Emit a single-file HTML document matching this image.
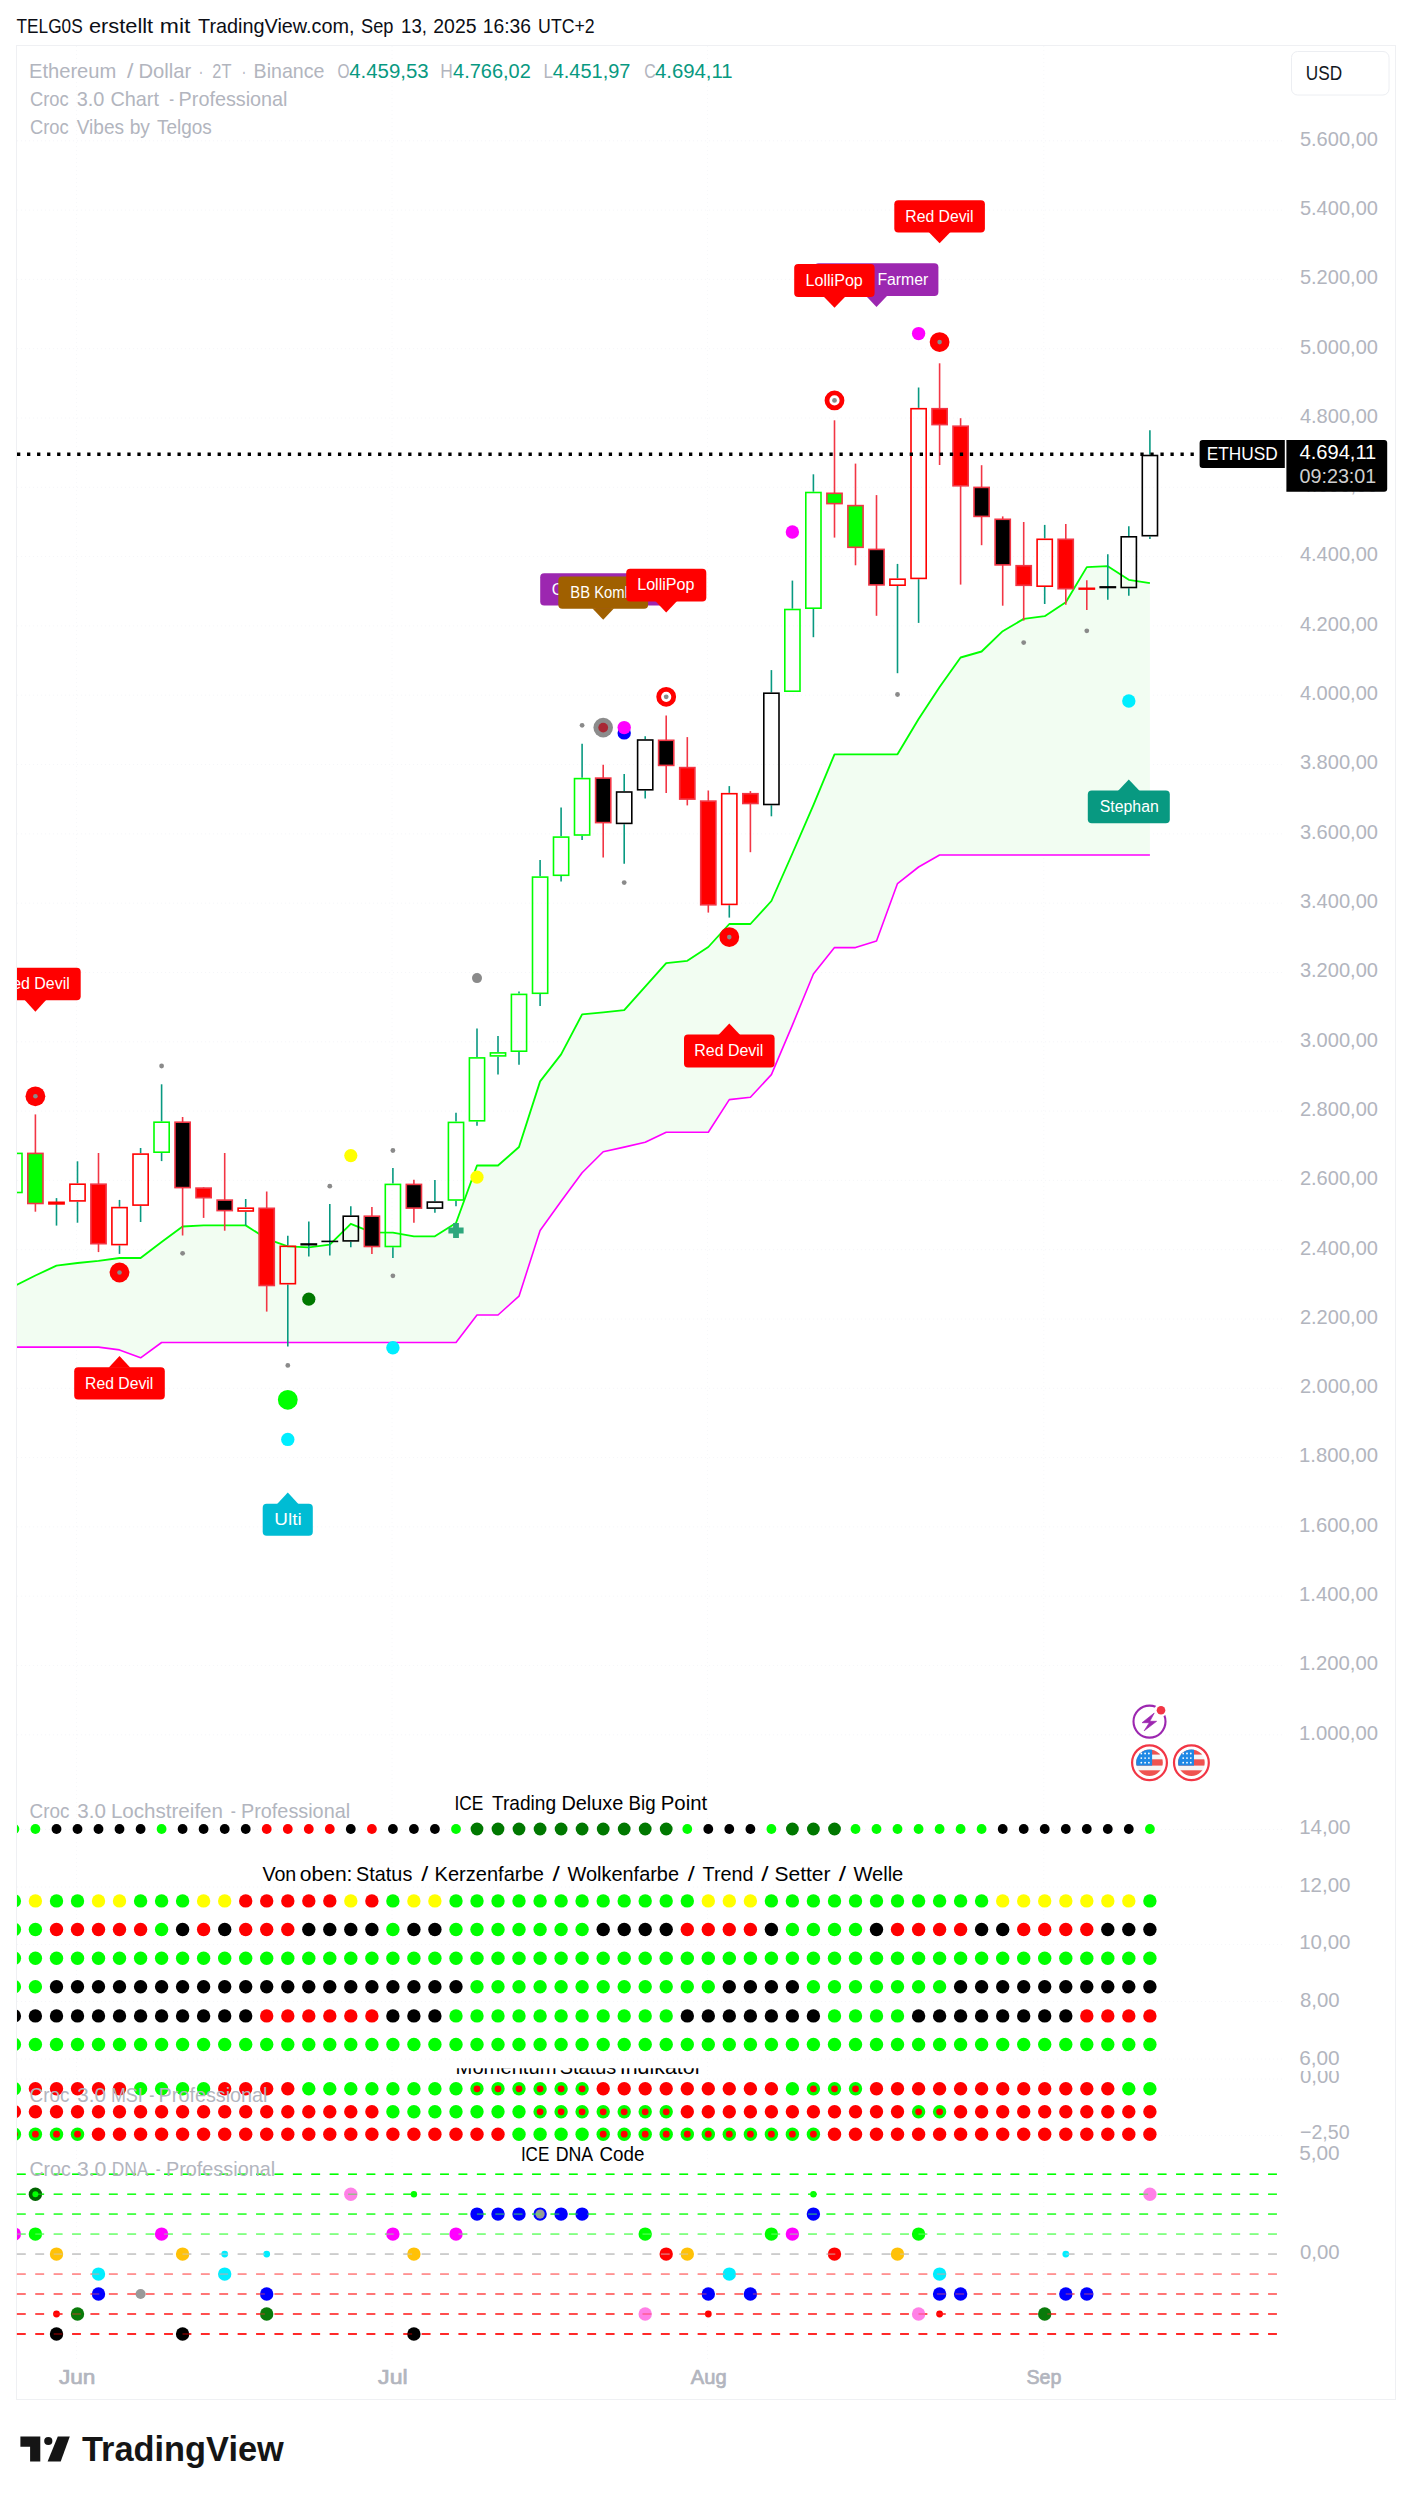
<!DOCTYPE html>
<html lang="de"><head><meta charset="utf-8"><title>ETHUSD Chart</title>
<style>html,body{margin:0;padding:0;background:#ffffff;}body{width:1412px;height:2500px;overflow:hidden;font-family:"Liberation Sans",sans-serif;}svg{display:block;}text{font-family:"Liberation Sans",sans-serif;}</style>
</head><body>
<svg width="1412" height="2500" viewBox="0 0 1412 2500">
<defs>
<clipPath id="plot"><rect x="17" y="46" width="1379" height="2354"/></clipPath>
<clipPath id="msitxt"><rect x="17" y="2068.2" width="1379" height="100"/></clipPath>
<clipPath id="msiax"><rect x="1280" y="2071.0" width="116" height="100"/></clipPath>
<clipPath id="flagclip"><circle cx="0" cy="0" r="13.3"/></clipPath>
</defs>
<rect x="0" y="0" width="1412" height="2500" fill="#ffffff"/>
<text x="16.6" y="32.5" font-size="20.9" fill="#0c0e15" textLength="66.1" lengthAdjust="spacingAndGlyphs">TELG0S</text>
<text x="88.9" y="32.5" font-size="20.9" fill="#0c0e15" textLength="64.3" lengthAdjust="spacingAndGlyphs">erstellt</text>
<text x="159.8" y="32.5" font-size="20.9" fill="#0c0e15" textLength="30.6" lengthAdjust="spacingAndGlyphs">mit</text>
<text x="198.0" y="32.5" font-size="20.9" fill="#0c0e15" textLength="156.6" lengthAdjust="spacingAndGlyphs">TradingView.com,</text>
<text x="361.1" y="32.5" font-size="20.9" fill="#0c0e15" textLength="32.4" lengthAdjust="spacingAndGlyphs">Sep</text>
<text x="401.1" y="32.5" font-size="20.9" fill="#0c0e15" textLength="25.9" lengthAdjust="spacingAndGlyphs">13,</text>
<text x="433.3" y="32.5" font-size="20.9" fill="#0c0e15" textLength="43.2" lengthAdjust="spacingAndGlyphs">2025</text>
<text x="482.8" y="32.5" font-size="20.9" fill="#0c0e15" textLength="48.2" lengthAdjust="spacingAndGlyphs">16:36</text>
<text x="538.1" y="32.5" font-size="20.9" fill="#0c0e15" textLength="56.6" lengthAdjust="spacingAndGlyphs">UTC+2</text>
<rect x="16.5" y="45.5" width="1379" height="2354" fill="#ffffff" stroke="#eff0f3" stroke-width="1"/>
<g stroke="#f5f6f9" stroke-width="1" stroke-dasharray="1 3">
<line x1="17" y1="140.8" x2="1284" y2="140.8"/>
<line x1="17" y1="210.1" x2="1284" y2="210.1"/>
<line x1="17" y1="279.4" x2="1284" y2="279.4"/>
<line x1="17" y1="348.7" x2="1284" y2="348.7"/>
<line x1="17" y1="418.0" x2="1284" y2="418.0"/>
<line x1="17" y1="487.3" x2="1284" y2="487.3"/>
<line x1="17" y1="556.6" x2="1284" y2="556.6"/>
<line x1="17" y1="625.9" x2="1284" y2="625.9"/>
<line x1="17" y1="695.2" x2="1284" y2="695.2"/>
<line x1="17" y1="764.5" x2="1284" y2="764.5"/>
<line x1="17" y1="833.9" x2="1284" y2="833.9"/>
<line x1="17" y1="903.2" x2="1284" y2="903.2"/>
<line x1="17" y1="972.5" x2="1284" y2="972.5"/>
<line x1="17" y1="1041.8" x2="1284" y2="1041.8"/>
<line x1="17" y1="1111.1" x2="1284" y2="1111.1"/>
<line x1="17" y1="1180.4" x2="1284" y2="1180.4"/>
<line x1="17" y1="1249.7" x2="1284" y2="1249.7"/>
<line x1="17" y1="1319.0" x2="1284" y2="1319.0"/>
<line x1="17" y1="1388.3" x2="1284" y2="1388.3"/>
<line x1="17" y1="1457.6" x2="1284" y2="1457.6"/>
<line x1="17" y1="1526.9" x2="1284" y2="1526.9"/>
<line x1="17" y1="1596.2" x2="1284" y2="1596.2"/>
<line x1="17" y1="1665.5" x2="1284" y2="1665.5"/>
<line x1="17" y1="1734.8" x2="1284" y2="1734.8"/>
<line x1="17" y1="1829.5" x2="1284" y2="1829.5"/>
<line x1="17" y1="1887.0" x2="1284" y2="1887.0"/>
<line x1="17" y1="1944.5" x2="1284" y2="1944.5"/>
<line x1="17" y1="2001.5" x2="1284" y2="2001.5"/>
<line x1="17" y1="2059.0" x2="1284" y2="2059.0"/>
<line x1="17" y1="2079.0" x2="1284" y2="2079.0"/>
<line x1="17" y1="2135.5" x2="1284" y2="2135.5"/>
<line x1="76.6" y1="46" x2="76.6" y2="2360" stroke="#f7f8fa"/>
<line x1="392.0" y1="46" x2="392.0" y2="2360" stroke="#f7f8fa"/>
<line x1="707.4" y1="46" x2="707.4" y2="2360" stroke="#f7f8fa"/>
<line x1="1043.8" y1="46" x2="1043.8" y2="2360" stroke="#f7f8fa"/>
</g>
<g clip-path="url(#plot)">
<polygon points="14.4,1286.0 35.4,1275.5 56.5,1265.7 77.5,1263.0 98.5,1260.9 119.5,1258.0 140.6,1258.0 161.6,1242.0 182.6,1226.5 203.6,1225.4 224.7,1225.4 245.7,1225.4 266.7,1238.8 287.8,1246.4 308.8,1247.3 329.8,1244.7 350.8,1223.8 371.9,1232.3 392.9,1232.6 413.9,1236.3 434.9,1236.3 456.0,1223.0 477.0,1165.5 498.0,1165.5 519.0,1147.0 540.1,1081.4 561.1,1054.4 582.1,1014.4 603.2,1012.4 624.2,1010.2 645.2,986.6 666.2,963.2 687.3,960.8 708.3,947.0 729.3,924.0 750.4,924.0 771.4,901.0 792.4,853.5 813.4,805.1 834.5,754.3 855.5,754.3 876.5,754.3 897.5,754.3 918.6,719.0 939.6,687.0 960.6,657.5 981.6,651.5 1002.7,631.2 1023.7,618.9 1044.7,616.2 1065.8,602.3 1086.8,567.1 1107.8,566.2 1128.8,579.8 1149.9,583.2 1149.9,855.0 1128.8,855.0 1107.8,855.0 1086.8,855.0 1065.8,855.0 1044.7,855.0 1023.7,855.0 1002.7,855.0 981.6,855.0 960.6,855.0 939.6,855.0 918.6,867.0 897.5,883.6 876.5,941.0 855.5,947.6 834.5,947.6 813.4,974.0 792.4,1025.1 771.4,1074.6 750.4,1097.3 729.3,1099.6 708.3,1132.2 687.3,1132.2 666.2,1132.2 645.2,1142.2 624.2,1147.1 603.2,1151.8 582.1,1172.8 561.1,1201.2 540.1,1230.5 519.0,1296.2 498.0,1315.0 477.0,1315.0 456.0,1342.5 434.9,1342.5 413.9,1342.5 392.9,1342.5 371.9,1342.5 350.8,1342.5 329.8,1342.5 308.8,1342.5 287.8,1342.5 266.7,1342.5 245.7,1342.5 224.7,1342.5 203.6,1342.5 182.6,1342.5 161.6,1342.5 140.6,1357.8 119.5,1349.9 98.5,1347.1 77.5,1347.1 56.5,1347.1 35.4,1347.1 14.4,1347.1" fill="#f2fdf2"/>
<polyline points="14.4,1347.1 35.4,1347.1 56.5,1347.1 77.5,1347.1 98.5,1347.1 119.5,1349.9 140.6,1357.8 161.6,1342.5 182.6,1342.5 203.6,1342.5 224.7,1342.5 245.7,1342.5 266.7,1342.5 287.8,1342.5 308.8,1342.5 329.8,1342.5 350.8,1342.5 371.9,1342.5 392.9,1342.5 413.9,1342.5 434.9,1342.5 456.0,1342.5 477.0,1315.0 498.0,1315.0 519.0,1296.2 540.1,1230.5 561.1,1201.2 582.1,1172.8 603.2,1151.8 624.2,1147.1 645.2,1142.2 666.2,1132.2 687.3,1132.2 708.3,1132.2 729.3,1099.6 750.4,1097.3 771.4,1074.6 792.4,1025.1 813.4,974.0 834.5,947.6 855.5,947.6 876.5,941.0 897.5,883.6 918.6,867.0 939.6,855.0 960.6,855.0 981.6,855.0 1002.7,855.0 1023.7,855.0 1044.7,855.0 1065.8,855.0 1086.8,855.0 1107.8,855.0 1128.8,855.0 1149.9,855.0" fill="none" stroke="#ff00ff" stroke-width="1.6" stroke-linejoin="round"/>
<polyline points="14.4,1286.0 35.4,1275.5 56.5,1265.7 77.5,1263.0 98.5,1260.9 119.5,1258.0 140.6,1258.0 161.6,1242.0 182.6,1226.5 203.6,1225.4 224.7,1225.4 245.7,1225.4 266.7,1238.8 287.8,1246.4 308.8,1247.3 329.8,1244.7 350.8,1223.8 371.9,1232.3 392.9,1232.6 413.9,1236.3 434.9,1236.3 456.0,1223.0 477.0,1165.5 498.0,1165.5 519.0,1147.0 540.1,1081.4 561.1,1054.4 582.1,1014.4 603.2,1012.4 624.2,1010.2 645.2,986.6 666.2,963.2 687.3,960.8 708.3,947.0 729.3,924.0 750.4,924.0 771.4,901.0 792.4,853.5 813.4,805.1 834.5,754.3 855.5,754.3 876.5,754.3 897.5,754.3 918.6,719.0 939.6,687.0 960.6,657.5 981.6,651.5 1002.7,631.2 1023.7,618.9 1044.7,616.2 1065.8,602.3 1086.8,567.1 1107.8,566.2 1128.8,579.8 1149.9,583.2" fill="none" stroke="#00ff00" stroke-width="1.85" stroke-linejoin="round"/>
<rect x="6.8" y="1153.4" width="15.2" height="39.1" fill="none" stroke="#00ff00" stroke-width="1.6"/>
<line x1="35.4" y1="1114.4" x2="35.4" y2="1211.7" stroke="#f23645" stroke-width="1.6"/>
<rect x="27.8" y="1153.4" width="15.2" height="50.1" fill="#00ff00" stroke="#f23645" stroke-width="1.6"/>
<line x1="56.5" y1="1198.1" x2="56.5" y2="1225.6" stroke="#089981" stroke-width="1.6"/>
<rect x="48.1" y="1201.5" width="16.8" height="3.2" fill="#ff0000"/>
<line x1="77.5" y1="1161.3" x2="77.5" y2="1183.4" stroke="#089981" stroke-width="1.6"/>
<line x1="77.5" y1="1201.7" x2="77.5" y2="1222.7" stroke="#089981" stroke-width="1.6"/>
<rect x="69.9" y="1184.2" width="15.2" height="16.7" fill="none" stroke="#ff0000" stroke-width="1.6"/>
<line x1="98.5" y1="1153.0" x2="98.5" y2="1252.1" stroke="#f23645" stroke-width="1.6"/>
<rect x="90.9" y="1184.2" width="15.2" height="59.5" fill="#ff0000" stroke="#f23645" stroke-width="1.6"/>
<line x1="119.5" y1="1199.9" x2="119.5" y2="1206.8" stroke="#089981" stroke-width="1.6"/>
<line x1="119.5" y1="1245.4" x2="119.5" y2="1253.9" stroke="#089981" stroke-width="1.6"/>
<rect x="111.9" y="1207.6" width="15.2" height="37.0" fill="none" stroke="#ff0000" stroke-width="1.6"/>
<line x1="140.6" y1="1148.0" x2="140.6" y2="1153.3" stroke="#089981" stroke-width="1.6"/>
<line x1="140.6" y1="1205.9" x2="140.6" y2="1222.0" stroke="#089981" stroke-width="1.6"/>
<rect x="133.0" y="1154.1" width="15.2" height="51.0" fill="none" stroke="#ff0000" stroke-width="1.6"/>
<line x1="161.6" y1="1084.3" x2="161.6" y2="1121.4" stroke="#089981" stroke-width="1.6"/>
<line x1="161.6" y1="1153.0" x2="161.6" y2="1161.1" stroke="#089981" stroke-width="1.6"/>
<rect x="154.0" y="1122.2" width="15.2" height="30.0" fill="none" stroke="#00ff00" stroke-width="1.6"/>
<line x1="182.6" y1="1117.0" x2="182.6" y2="1235.5" stroke="#f23645" stroke-width="1.6"/>
<rect x="175.0" y="1122.2" width="15.2" height="65.4" fill="#000000" stroke="#f23645" stroke-width="1.6"/>
<line x1="203.6" y1="1187.3" x2="203.6" y2="1217.9" stroke="#f23645" stroke-width="1.6"/>
<rect x="196.0" y="1188.1" width="15.2" height="9.6" fill="#ff0000" stroke="#f23645" stroke-width="1.6"/>
<line x1="224.7" y1="1153.0" x2="224.7" y2="1230.7" stroke="#f23645" stroke-width="1.6"/>
<rect x="217.1" y="1200.1" width="15.2" height="10.5" fill="#000000" stroke="#f23645" stroke-width="1.6"/>
<line x1="245.7" y1="1199.0" x2="245.7" y2="1207.4" stroke="#089981" stroke-width="1.6"/>
<line x1="245.7" y1="1211.8" x2="245.7" y2="1225.5" stroke="#089981" stroke-width="1.6"/>
<rect x="238.1" y="1208.2" width="15.2" height="2.8" fill="none" stroke="#ff0000" stroke-width="1.6"/>
<line x1="266.7" y1="1191.5" x2="266.7" y2="1311.6" stroke="#f23645" stroke-width="1.6"/>
<rect x="259.1" y="1208.3" width="15.2" height="77.2" fill="#ff0000" stroke="#f23645" stroke-width="1.6"/>
<line x1="287.8" y1="1235.8" x2="287.8" y2="1245.5" stroke="#089981" stroke-width="1.6"/>
<line x1="287.8" y1="1284.5" x2="287.8" y2="1346.5" stroke="#089981" stroke-width="1.6"/>
<rect x="280.2" y="1246.3" width="15.2" height="37.4" fill="none" stroke="#ff0000" stroke-width="1.6"/>
<line x1="308.8" y1="1221.6" x2="308.8" y2="1256.5" stroke="#089981" stroke-width="1.6"/>
<rect x="300.4" y="1243.2" width="16.8" height="2.3" fill="#000000"/>
<line x1="329.8" y1="1203.9" x2="329.8" y2="1255.6" stroke="#089981" stroke-width="1.6"/>
<rect x="321.4" y="1240.6" width="16.8" height="1.6" fill="#000000"/>
<line x1="350.8" y1="1206.2" x2="350.8" y2="1215.4" stroke="#089981" stroke-width="1.6"/>
<line x1="350.8" y1="1241.7" x2="350.8" y2="1247.3" stroke="#089981" stroke-width="1.6"/>
<rect x="343.2" y="1216.2" width="15.2" height="24.7" fill="none" stroke="#000000" stroke-width="1.6"/>
<line x1="371.9" y1="1207.1" x2="371.9" y2="1253.9" stroke="#f23645" stroke-width="1.6"/>
<rect x="364.3" y="1216.2" width="15.2" height="30.3" fill="#000000" stroke="#f23645" stroke-width="1.6"/>
<line x1="392.9" y1="1168.0" x2="392.9" y2="1183.6" stroke="#089981" stroke-width="1.6"/>
<line x1="392.9" y1="1247.3" x2="392.9" y2="1257.9" stroke="#089981" stroke-width="1.6"/>
<rect x="385.3" y="1184.4" width="15.2" height="62.1" fill="none" stroke="#00ff00" stroke-width="1.6"/>
<line x1="413.9" y1="1179.7" x2="413.9" y2="1222.7" stroke="#f23645" stroke-width="1.6"/>
<rect x="406.3" y="1184.4" width="15.2" height="23.7" fill="#000000" stroke="#f23645" stroke-width="1.6"/>
<line x1="434.9" y1="1180.0" x2="434.9" y2="1201.3" stroke="#089981" stroke-width="1.6"/>
<line x1="434.9" y1="1208.9" x2="434.9" y2="1212.8" stroke="#089981" stroke-width="1.6"/>
<rect x="427.3" y="1202.1" width="15.2" height="6.0" fill="none" stroke="#000000" stroke-width="1.6"/>
<line x1="456.0" y1="1112.8" x2="456.0" y2="1121.6" stroke="#089981" stroke-width="1.6"/>
<line x1="456.0" y1="1200.8" x2="456.0" y2="1206.2" stroke="#089981" stroke-width="1.6"/>
<rect x="448.4" y="1122.4" width="15.2" height="77.6" fill="none" stroke="#00ff00" stroke-width="1.6"/>
<line x1="477.0" y1="1028.6" x2="477.0" y2="1057.1" stroke="#089981" stroke-width="1.6"/>
<line x1="477.0" y1="1121.6" x2="477.0" y2="1125.8" stroke="#089981" stroke-width="1.6"/>
<rect x="469.4" y="1057.9" width="15.2" height="62.9" fill="none" stroke="#00ff00" stroke-width="1.6"/>
<line x1="498.0" y1="1035.9" x2="498.0" y2="1052.1" stroke="#089981" stroke-width="1.6"/>
<line x1="498.0" y1="1056.7" x2="498.0" y2="1074.6" stroke="#089981" stroke-width="1.6"/>
<rect x="490.4" y="1052.9" width="15.2" height="3.0" fill="none" stroke="#00ff00" stroke-width="1.6"/>
<line x1="519.0" y1="991.4" x2="519.0" y2="993.6" stroke="#089981" stroke-width="1.6"/>
<line x1="519.0" y1="1052.0" x2="519.0" y2="1064.8" stroke="#089981" stroke-width="1.6"/>
<rect x="511.4" y="994.4" width="15.2" height="56.8" fill="none" stroke="#00ff00" stroke-width="1.6"/>
<line x1="540.1" y1="860.1" x2="540.1" y2="876.3" stroke="#089981" stroke-width="1.6"/>
<line x1="540.1" y1="994.1" x2="540.1" y2="1006.1" stroke="#089981" stroke-width="1.6"/>
<rect x="532.5" y="877.1" width="15.2" height="116.2" fill="none" stroke="#00ff00" stroke-width="1.6"/>
<line x1="561.1" y1="807.6" x2="561.1" y2="836.3" stroke="#089981" stroke-width="1.6"/>
<line x1="561.1" y1="876.1" x2="561.1" y2="881.5" stroke="#089981" stroke-width="1.6"/>
<rect x="553.5" y="837.1" width="15.2" height="38.2" fill="none" stroke="#00ff00" stroke-width="1.6"/>
<line x1="582.1" y1="743.8" x2="582.1" y2="777.8" stroke="#089981" stroke-width="1.6"/>
<line x1="582.1" y1="835.8" x2="582.1" y2="839.9" stroke="#089981" stroke-width="1.6"/>
<rect x="574.5" y="778.6" width="15.2" height="56.4" fill="none" stroke="#00ff00" stroke-width="1.6"/>
<line x1="603.2" y1="764.8" x2="603.2" y2="857.4" stroke="#f23645" stroke-width="1.6"/>
<rect x="595.6" y="778.1" width="15.2" height="44.5" fill="#000000" stroke="#f23645" stroke-width="1.6"/>
<line x1="624.2" y1="774.0" x2="624.2" y2="791.2" stroke="#089981" stroke-width="1.6"/>
<line x1="624.2" y1="824.2" x2="624.2" y2="863.8" stroke="#089981" stroke-width="1.6"/>
<rect x="616.6" y="792.0" width="15.2" height="31.4" fill="none" stroke="#000000" stroke-width="1.6"/>
<line x1="645.2" y1="736.2" x2="645.2" y2="739.2" stroke="#089981" stroke-width="1.6"/>
<line x1="645.2" y1="790.6" x2="645.2" y2="798.6" stroke="#089981" stroke-width="1.6"/>
<rect x="637.6" y="740.0" width="15.2" height="49.8" fill="none" stroke="#000000" stroke-width="1.6"/>
<line x1="666.2" y1="715.6" x2="666.2" y2="792.9" stroke="#f23645" stroke-width="1.6"/>
<rect x="658.6" y="740.3" width="15.2" height="25.1" fill="#000000" stroke="#f23645" stroke-width="1.6"/>
<line x1="687.3" y1="737.1" x2="687.3" y2="805.4" stroke="#f23645" stroke-width="1.6"/>
<rect x="679.7" y="767.6" width="15.2" height="31.5" fill="#ff0000" stroke="#f23645" stroke-width="1.6"/>
<line x1="708.3" y1="790.5" x2="708.3" y2="912.6" stroke="#f23645" stroke-width="1.6"/>
<rect x="700.7" y="801.1" width="15.2" height="103.7" fill="#ff0000" stroke="#f23645" stroke-width="1.6"/>
<line x1="729.3" y1="786.1" x2="729.3" y2="792.9" stroke="#089981" stroke-width="1.6"/>
<line x1="729.3" y1="905.2" x2="729.3" y2="917.6" stroke="#089981" stroke-width="1.6"/>
<rect x="721.7" y="793.7" width="15.2" height="110.7" fill="none" stroke="#ff0000" stroke-width="1.6"/>
<line x1="750.4" y1="791.1" x2="750.4" y2="852.2" stroke="#f23645" stroke-width="1.6"/>
<rect x="742.8" y="793.7" width="15.2" height="9.8" fill="#ff0000" stroke="#f23645" stroke-width="1.6"/>
<line x1="771.4" y1="670.1" x2="771.4" y2="692.4" stroke="#089981" stroke-width="1.6"/>
<line x1="771.4" y1="805.3" x2="771.4" y2="816.3" stroke="#089981" stroke-width="1.6"/>
<rect x="763.8" y="693.2" width="15.2" height="111.3" fill="none" stroke="#000000" stroke-width="1.6"/>
<line x1="792.4" y1="580.6" x2="792.4" y2="608.7" stroke="#089981" stroke-width="1.6"/>
<rect x="784.8" y="609.5" width="15.2" height="81.7" fill="none" stroke="#00ff00" stroke-width="1.6"/>
<line x1="813.4" y1="474.3" x2="813.4" y2="491.7" stroke="#089981" stroke-width="1.6"/>
<line x1="813.4" y1="609.0" x2="813.4" y2="637.2" stroke="#089981" stroke-width="1.6"/>
<rect x="805.8" y="492.5" width="15.2" height="115.7" fill="none" stroke="#00ff00" stroke-width="1.6"/>
<line x1="834.5" y1="420.3" x2="834.5" y2="537.6" stroke="#f23645" stroke-width="1.6"/>
<rect x="826.9" y="493.3" width="15.2" height="10.3" fill="#00ff00" stroke="#f23645" stroke-width="1.6"/>
<line x1="855.5" y1="463.6" x2="855.5" y2="565.3" stroke="#f23645" stroke-width="1.6"/>
<rect x="847.9" y="505.6" width="15.2" height="41.7" fill="#00ff00" stroke="#f23645" stroke-width="1.6"/>
<line x1="876.5" y1="495.1" x2="876.5" y2="615.8" stroke="#f23645" stroke-width="1.6"/>
<rect x="868.9" y="549.4" width="15.2" height="35.5" fill="#000000" stroke="#f23645" stroke-width="1.6"/>
<line x1="897.5" y1="563.9" x2="897.5" y2="578.4" stroke="#089981" stroke-width="1.6"/>
<line x1="897.5" y1="586.0" x2="897.5" y2="673.2" stroke="#089981" stroke-width="1.6"/>
<rect x="889.9" y="579.2" width="15.2" height="6.0" fill="none" stroke="#ff0000" stroke-width="1.6"/>
<line x1="918.6" y1="387.5" x2="918.6" y2="407.9" stroke="#089981" stroke-width="1.6"/>
<line x1="918.6" y1="579.2" x2="918.6" y2="622.9" stroke="#089981" stroke-width="1.6"/>
<rect x="911.0" y="408.7" width="15.2" height="169.7" fill="none" stroke="#ff0000" stroke-width="1.6"/>
<line x1="939.6" y1="363.3" x2="939.6" y2="465.0" stroke="#f23645" stroke-width="1.6"/>
<rect x="932.0" y="408.7" width="15.2" height="15.9" fill="#ff0000" stroke="#f23645" stroke-width="1.6"/>
<line x1="960.6" y1="418.2" x2="960.6" y2="584.6" stroke="#f23645" stroke-width="1.6"/>
<rect x="953.0" y="426.2" width="15.2" height="59.6" fill="#ff0000" stroke="#f23645" stroke-width="1.6"/>
<line x1="981.6" y1="465.2" x2="981.6" y2="545.2" stroke="#f23645" stroke-width="1.6"/>
<rect x="974.0" y="487.4" width="15.2" height="29.0" fill="#000000" stroke="#f23645" stroke-width="1.6"/>
<line x1="1002.7" y1="516.4" x2="1002.7" y2="605.7" stroke="#f23645" stroke-width="1.6"/>
<rect x="995.1" y="519.3" width="15.2" height="45.6" fill="#000000" stroke="#f23645" stroke-width="1.6"/>
<line x1="1023.7" y1="522.0" x2="1023.7" y2="620.6" stroke="#f23645" stroke-width="1.6"/>
<rect x="1016.1" y="565.7" width="15.2" height="19.6" fill="#ff0000" stroke="#f23645" stroke-width="1.6"/>
<line x1="1044.7" y1="524.9" x2="1044.7" y2="538.5" stroke="#089981" stroke-width="1.6"/>
<line x1="1044.7" y1="587.0" x2="1044.7" y2="604.0" stroke="#089981" stroke-width="1.6"/>
<rect x="1037.1" y="539.3" width="15.2" height="46.9" fill="none" stroke="#ff0000" stroke-width="1.6"/>
<line x1="1065.8" y1="524.1" x2="1065.8" y2="604.8" stroke="#f23645" stroke-width="1.6"/>
<rect x="1058.1" y="539.3" width="15.2" height="49.4" fill="#ff0000" stroke="#f23645" stroke-width="1.6"/>
<line x1="1086.8" y1="580.2" x2="1086.8" y2="609.9" stroke="#f23645" stroke-width="1.6"/>
<rect x="1078.4" y="587.5" width="16.8" height="2.4" fill="#ff0000"/>
<line x1="1107.8" y1="554.2" x2="1107.8" y2="599.7" stroke="#089981" stroke-width="1.6"/>
<rect x="1099.4" y="586.1" width="16.8" height="2.2" fill="#000000"/>
<line x1="1128.8" y1="526.3" x2="1128.8" y2="536.0" stroke="#089981" stroke-width="1.6"/>
<line x1="1128.8" y1="588.3" x2="1128.8" y2="595.8" stroke="#089981" stroke-width="1.6"/>
<rect x="1121.2" y="536.8" width="15.2" height="50.7" fill="none" stroke="#000000" stroke-width="1.6"/>
<line x1="1149.9" y1="430.3" x2="1149.9" y2="454.7" stroke="#089981" stroke-width="1.6"/>
<line x1="1149.9" y1="536.5" x2="1149.9" y2="539.0" stroke="#089981" stroke-width="1.6"/>
<rect x="1142.3" y="455.5" width="15.2" height="80.2" fill="none" stroke="#000000" stroke-width="1.6"/>
<line x1="17" y1="454.2" x2="1195.5" y2="454.2" stroke="#000000" stroke-width="3.4" stroke-dasharray="3.3 6.73"/>
<circle cx="161.6" cy="1066.0" r="2.4" fill="#8a8a8a"/>
<circle cx="182.6" cy="1253.3" r="2.4" fill="#8a8a8a"/>
<circle cx="287.8" cy="1365.4" r="2.4" fill="#8a8a8a"/>
<circle cx="329.8" cy="1186.2" r="2.4" fill="#8a8a8a"/>
<circle cx="392.9" cy="1150.5" r="2.4" fill="#8a8a8a"/>
<circle cx="392.9" cy="1275.8" r="2.4" fill="#8a8a8a"/>
<circle cx="582.1" cy="725.3" r="2.4" fill="#8a8a8a"/>
<circle cx="624.2" cy="882.6" r="2.4" fill="#8a8a8a"/>
<circle cx="897.5" cy="694.5" r="2.4" fill="#8a8a8a"/>
<circle cx="1023.7" cy="642.6" r="2.4" fill="#8a8a8a"/>
<circle cx="1086.8" cy="630.8" r="2.4" fill="#8a8a8a"/>
<circle cx="477.0" cy="978.1" r="5" fill="#8a8a8a"/>
<circle cx="35.4" cy="1096.3" r="9.9" fill="#ff0000"/>
<circle cx="35.4" cy="1096.3" r="2.3" fill="#8a8a8a"/>
<circle cx="119.5" cy="1272.5" r="9.9" fill="#ff0000"/>
<circle cx="119.5" cy="1272.5" r="2.3" fill="#8a8a8a"/>
<circle cx="729.3" cy="937.1" r="9.9" fill="#ff0000"/>
<circle cx="729.3" cy="937.1" r="2.3" fill="#8a8a8a"/>
<circle cx="939.6" cy="342.1" r="9.9" fill="#ff0000"/>
<circle cx="939.6" cy="342.1" r="2.3" fill="#8a8a8a"/>
<circle cx="666.2" cy="696.8" r="7.5" fill="#ffffff" stroke="#ff0000" stroke-width="4.8"/>
<circle cx="666.2" cy="696.8" r="2.4" fill="#8a8a8a"/>
<circle cx="834.5" cy="400.4" r="7.5" fill="#ffffff" stroke="#ff0000" stroke-width="4.8"/>
<circle cx="834.5" cy="400.4" r="2.4" fill="#8a8a8a"/>
<circle cx="350.8" cy="1155.6" r="6.6" fill="#ffff00"/>
<circle cx="477.0" cy="1177.2" r="6.6" fill="#ffff00"/>
<circle cx="308.8" cy="1299.2" r="6.6" fill="#007800"/>
<circle cx="392.9" cy="1347.8" r="6.7" fill="#00eeff"/>
<circle cx="287.8" cy="1439.4" r="6.7" fill="#00eeff"/>
<circle cx="1128.8" cy="701.0" r="6.7" fill="#00eeff"/>
<circle cx="287.8" cy="1399.8" r="9.9" fill="#00ff00"/>
<circle cx="624.2" cy="732.9" r="6.7" fill="#0000ff"/>
<circle cx="624.2" cy="727.6" r="6.7" fill="#ff00ff"/>
<circle cx="792.4" cy="532.0" r="6.7" fill="#ff00ff"/>
<circle cx="918.6" cy="333.6" r="6.7" fill="#ff00ff"/>
<circle cx="603.2" cy="727.6" r="9.8" fill="#8c8c8c"/>
<circle cx="603.2" cy="727.6" r="4.9" fill="#a82835"/>
<path d="M448.4,1227.6 h4.7 v-4.7 h5.8 v4.7 h4.7 v5.8 h-4.7 v4.7 h-5.8 v-4.7 h-4.7 Z" fill="#2ea77d"/>
<rect x="-9.9" y="967.8" width="90.6" height="32.5" rx="4" fill="#ff0000"/>
<path d="M24.5,999.8 L35.4,1011.7 L46.3,999.8 Z" fill="#ff0000"/>
<text x="0.7" y="989.2" font-size="15.8" fill="#ffffff" textLength="69.1" lengthAdjust="spacingAndGlyphs">Red Devil</text>
<rect x="74.2" y="1367.2" width="90.6" height="32.3" rx="4" fill="#ff0000"/>
<path d="M108.6,1367.7 L119.5,1356.1 L130.4,1367.7 Z" fill="#ff0000"/>
<text x="85.1" y="1388.5" font-size="15.8" fill="#ffffff" textLength="68.2" lengthAdjust="spacingAndGlyphs">Red Devil</text>
<rect x="262.7" y="1503.7" width="50.1" height="32.1" rx="4" fill="#00bcd4"/>
<path d="M276.9,1504.2 L287.8,1492.4 L298.6,1504.2 Z" fill="#00bcd4"/>
<text x="274.3" y="1524.9" font-size="15.8" fill="#ffffff" textLength="27.3" lengthAdjust="spacingAndGlyphs">Ulti</text>
<rect x="684.0" y="1034.4" width="90.6" height="33.2" rx="4" fill="#ff0000"/>
<path d="M718.4,1034.9 L729.3,1023.6 L740.2,1034.9 Z" fill="#ff0000"/>
<text x="694.3" y="1056.2" font-size="15.8" fill="#ffffff" textLength="69.1" lengthAdjust="spacingAndGlyphs">Red Devil</text>
<rect x="894.3" y="200.3" width="90.6" height="32.1" rx="4" fill="#ff0000"/>
<path d="M928.7,231.9 L939.6,243.2 L950.5,231.9 Z" fill="#ff0000"/>
<text x="905.3" y="221.6" font-size="15.8" fill="#ffffff" textLength="68.2" lengthAdjust="spacingAndGlyphs">Red Devil</text>
<rect x="814.6" y="263.2" width="123.8" height="32.7" rx="4" fill="#9c27b0"/>
<path d="M865.6,295.4 L876.5,307.1 L887.4,295.4 Z" fill="#9c27b0"/>
<text x="826.5" y="284.8" font-size="15.8" fill="#ffffff" textLength="101.8" lengthAdjust="spacingAndGlyphs">Crypto Farmer</text>
<rect x="794.2" y="264.1" width="80.4" height="32.8" rx="4" fill="#ff0000"/>
<path d="M823.6,296.4 L834.5,307.7 L845.4,296.4 Z" fill="#ff0000"/>
<text x="805.5" y="285.7" font-size="15.8" fill="#ffffff" textLength="57.3" lengthAdjust="spacingAndGlyphs">LolliPop</text>
<rect x="540.2" y="573.3" width="126.0" height="32.2" rx="4" fill="#9c27b0"/>
<path d="M592.3,605.0 L603.2,616.5 L614.1,605.0 Z" fill="#9c27b0"/>
<text x="551.8" y="594.6" font-size="15.8" fill="#ffffff" textLength="101.8" lengthAdjust="spacingAndGlyphs">Crypto Farmer</text>
<rect x="558.3" y="576.6" width="89.8" height="32.2" rx="4" fill="#a06000"/>
<path d="M592.3,608.3 L603.2,619.8 L614.1,608.3 Z" fill="#a06000"/>
<text x="570.3" y="597.9" font-size="15.8" fill="#ffffff" textLength="65.8" lengthAdjust="spacingAndGlyphs">BB Kombi</text>
<rect x="626.2" y="568.8" width="80.1" height="32.6" rx="4" fill="#ff0000"/>
<path d="M655.3,600.9 L666.2,612.5 L677.1,600.9 Z" fill="#ff0000"/>
<text x="637.2" y="590.3" font-size="15.8" fill="#ffffff" textLength="57.3" lengthAdjust="spacingAndGlyphs">LolliPop</text>
<rect x="1087.8" y="790.5" width="82.0" height="32.7" rx="4" fill="#089981"/>
<path d="M1117.9,791.0 L1128.8,779.4 L1139.7,791.0 Z" fill="#089981"/>
<text x="1099.8" y="812.1" font-size="15.8" fill="#ffffff" textLength="59.0" lengthAdjust="spacingAndGlyphs">Stephan</text>
<g>
<circle cx="1149.5" cy="1721.6" r="16" fill="none" stroke="#9c27b0" stroke-width="2.1"/>
<circle cx="1161" cy="1710.2" r="6.6" fill="#ffffff"/>
<circle cx="1161" cy="1710.2" r="4.3" fill="#f23645"/>
<path d="M1154.2,1713.1 L1142.1,1722.7 L1149.3,1722.7 L1144.2,1730.8 L1156.6,1721.3 L1149.8,1721.3 Z" fill="#9c27b0" stroke="#9c27b0" stroke-width="0.7" stroke-linejoin="round"/>
</g>
<g transform="translate(1149.5,1762.7)">
<circle cx="0" cy="0" r="17.4" fill="#ffffff" stroke="#f23645" stroke-width="2.2"/>
<g clip-path="url(#flagclip)">
<rect x="-14" y="-14" width="28" height="28" fill="#f5f5f5"/>
<rect x="-14" y="-13.3" width="28" height="5.2" fill="#ef5350"/>
<rect x="-14" y="-3.4" width="28" height="6.3" fill="#ef5350"/>
<rect x="-14" y="7.6" width="28" height="6" fill="#ef5350"/>
<rect x="-14" y="-14" width="16.6" height="16.9" fill="#1e88e5"/>
<circle cx="-8.2" cy="-9.2" r="0.9" fill="#ffffff"/>
<circle cx="-4.4" cy="-9.2" r="0.9" fill="#ffffff"/>
<circle cx="-0.6" cy="-9.2" r="0.9" fill="#ffffff"/>
<circle cx="-8.2" cy="-4.6" r="0.9" fill="#ffffff"/>
<circle cx="-4.4" cy="-4.6" r="0.9" fill="#ffffff"/>
<circle cx="-0.6" cy="-4.6" r="0.9" fill="#ffffff"/>
<circle cx="-8.2" cy="0" r="0.9" fill="#ffffff"/>
<circle cx="-4.4" cy="0" r="0.9" fill="#ffffff"/>
<circle cx="-0.6" cy="0" r="0.9" fill="#ffffff"/>
</g></g>
<g transform="translate(1191.4,1762.7)">
<circle cx="0" cy="0" r="17.4" fill="#ffffff" stroke="#f23645" stroke-width="2.2"/>
<g clip-path="url(#flagclip)">
<rect x="-14" y="-14" width="28" height="28" fill="#f5f5f5"/>
<rect x="-14" y="-13.3" width="28" height="5.2" fill="#ef5350"/>
<rect x="-14" y="-3.4" width="28" height="6.3" fill="#ef5350"/>
<rect x="-14" y="7.6" width="28" height="6" fill="#ef5350"/>
<rect x="-14" y="-14" width="16.6" height="16.9" fill="#1e88e5"/>
<circle cx="-8.2" cy="-9.2" r="0.9" fill="#ffffff"/>
<circle cx="-4.4" cy="-9.2" r="0.9" fill="#ffffff"/>
<circle cx="-0.6" cy="-9.2" r="0.9" fill="#ffffff"/>
<circle cx="-8.2" cy="-4.6" r="0.9" fill="#ffffff"/>
<circle cx="-4.4" cy="-4.6" r="0.9" fill="#ffffff"/>
<circle cx="-0.6" cy="-4.6" r="0.9" fill="#ffffff"/>
<circle cx="-8.2" cy="0" r="0.9" fill="#ffffff"/>
<circle cx="-4.4" cy="0" r="0.9" fill="#ffffff"/>
<circle cx="-0.6" cy="0" r="0.9" fill="#ffffff"/>
</g></g>
<circle cx="14.4" cy="1829.0" r="4.9" fill="#00ff00"/>
<circle cx="35.4" cy="1829.0" r="4.9" fill="#00ff00"/>
<circle cx="56.5" cy="1829.0" r="4.9" fill="#000000"/>
<circle cx="77.5" cy="1829.0" r="4.9" fill="#000000"/>
<circle cx="98.5" cy="1829.0" r="4.9" fill="#000000"/>
<circle cx="119.5" cy="1829.0" r="4.9" fill="#000000"/>
<circle cx="140.6" cy="1829.0" r="4.9" fill="#000000"/>
<circle cx="161.6" cy="1829.0" r="4.9" fill="#00ff00"/>
<circle cx="182.6" cy="1829.0" r="4.9" fill="#000000"/>
<circle cx="203.6" cy="1829.0" r="4.9" fill="#000000"/>
<circle cx="224.7" cy="1829.0" r="4.9" fill="#000000"/>
<circle cx="245.7" cy="1829.0" r="4.9" fill="#000000"/>
<circle cx="266.7" cy="1829.0" r="4.9" fill="#ff0000"/>
<circle cx="287.8" cy="1829.0" r="4.9" fill="#ff0000"/>
<circle cx="308.8" cy="1829.0" r="4.9" fill="#ff0000"/>
<circle cx="329.8" cy="1829.0" r="4.9" fill="#ff0000"/>
<circle cx="350.8" cy="1829.0" r="4.9" fill="#000000"/>
<circle cx="371.9" cy="1829.0" r="4.9" fill="#ff0000"/>
<circle cx="392.9" cy="1829.0" r="4.9" fill="#000000"/>
<circle cx="413.9" cy="1829.0" r="4.9" fill="#000000"/>
<circle cx="434.9" cy="1829.0" r="4.9" fill="#000000"/>
<circle cx="456.0" cy="1829.0" r="4.9" fill="#00ff00"/>
<circle cx="477.0" cy="1829.0" r="6.4" fill="#007800"/>
<circle cx="498.0" cy="1829.0" r="6.4" fill="#007800"/>
<circle cx="519.0" cy="1829.0" r="6.4" fill="#007800"/>
<circle cx="540.1" cy="1829.0" r="6.4" fill="#007800"/>
<circle cx="561.1" cy="1829.0" r="6.4" fill="#007800"/>
<circle cx="582.1" cy="1829.0" r="6.4" fill="#007800"/>
<circle cx="603.2" cy="1829.0" r="6.4" fill="#007800"/>
<circle cx="624.2" cy="1829.0" r="6.4" fill="#007800"/>
<circle cx="645.2" cy="1829.0" r="6.4" fill="#007800"/>
<circle cx="666.2" cy="1829.0" r="6.4" fill="#007800"/>
<circle cx="687.3" cy="1829.0" r="4.9" fill="#00ff00"/>
<circle cx="708.3" cy="1829.0" r="4.9" fill="#000000"/>
<circle cx="729.3" cy="1829.0" r="4.9" fill="#000000"/>
<circle cx="750.4" cy="1829.0" r="4.9" fill="#000000"/>
<circle cx="771.4" cy="1829.0" r="4.9" fill="#00ff00"/>
<circle cx="792.4" cy="1829.0" r="6.4" fill="#007800"/>
<circle cx="813.4" cy="1829.0" r="6.4" fill="#007800"/>
<circle cx="834.5" cy="1829.0" r="6.4" fill="#007800"/>
<circle cx="855.5" cy="1829.0" r="4.9" fill="#00ff00"/>
<circle cx="876.5" cy="1829.0" r="4.9" fill="#00ff00"/>
<circle cx="897.5" cy="1829.0" r="4.9" fill="#00ff00"/>
<circle cx="918.6" cy="1829.0" r="4.9" fill="#00ff00"/>
<circle cx="939.6" cy="1829.0" r="4.9" fill="#00ff00"/>
<circle cx="960.6" cy="1829.0" r="4.9" fill="#00ff00"/>
<circle cx="981.6" cy="1829.0" r="4.9" fill="#00ff00"/>
<circle cx="1002.7" cy="1829.0" r="4.9" fill="#000000"/>
<circle cx="1023.7" cy="1829.0" r="4.9" fill="#000000"/>
<circle cx="1044.7" cy="1829.0" r="4.9" fill="#000000"/>
<circle cx="1065.8" cy="1829.0" r="4.9" fill="#000000"/>
<circle cx="1086.8" cy="1829.0" r="4.9" fill="#000000"/>
<circle cx="1107.8" cy="1829.0" r="4.9" fill="#000000"/>
<circle cx="1128.8" cy="1829.0" r="4.9" fill="#000000"/>
<circle cx="1149.9" cy="1829.0" r="4.9" fill="#00ff00"/>
<circle cx="14.4" cy="1900.9" r="6.7" fill="#00ff00"/>
<circle cx="35.4" cy="1900.9" r="6.7" fill="#ffff00"/>
<circle cx="56.5" cy="1900.9" r="6.7" fill="#00ff00"/>
<circle cx="77.5" cy="1900.9" r="6.7" fill="#00ff00"/>
<circle cx="98.5" cy="1900.9" r="6.7" fill="#ffff00"/>
<circle cx="119.5" cy="1900.9" r="6.7" fill="#ffff00"/>
<circle cx="140.6" cy="1900.9" r="6.7" fill="#00ff00"/>
<circle cx="161.6" cy="1900.9" r="6.7" fill="#00ff00"/>
<circle cx="182.6" cy="1900.9" r="6.7" fill="#00ff00"/>
<circle cx="203.6" cy="1900.9" r="6.7" fill="#ffff00"/>
<circle cx="224.7" cy="1900.9" r="6.7" fill="#ffff00"/>
<circle cx="245.7" cy="1900.9" r="6.7" fill="#ff0000"/>
<circle cx="266.7" cy="1900.9" r="6.7" fill="#ff0000"/>
<circle cx="287.8" cy="1900.9" r="6.7" fill="#ff0000"/>
<circle cx="308.8" cy="1900.9" r="6.7" fill="#ff0000"/>
<circle cx="329.8" cy="1900.9" r="6.7" fill="#ff0000"/>
<circle cx="350.8" cy="1900.9" r="6.7" fill="#ffff00"/>
<circle cx="371.9" cy="1900.9" r="6.7" fill="#ff0000"/>
<circle cx="392.9" cy="1900.9" r="6.7" fill="#00ff00"/>
<circle cx="413.9" cy="1900.9" r="6.7" fill="#ffff00"/>
<circle cx="434.9" cy="1900.9" r="6.7" fill="#ffff00"/>
<circle cx="456.0" cy="1900.9" r="6.7" fill="#00ff00"/>
<circle cx="477.0" cy="1900.9" r="6.7" fill="#00ff00"/>
<circle cx="498.0" cy="1900.9" r="6.7" fill="#00ff00"/>
<circle cx="519.0" cy="1900.9" r="6.7" fill="#00ff00"/>
<circle cx="540.1" cy="1900.9" r="6.7" fill="#00ff00"/>
<circle cx="561.1" cy="1900.9" r="6.7" fill="#00ff00"/>
<circle cx="582.1" cy="1900.9" r="6.7" fill="#00ff00"/>
<circle cx="603.2" cy="1900.9" r="6.7" fill="#00ff00"/>
<circle cx="624.2" cy="1900.9" r="6.7" fill="#00ff00"/>
<circle cx="645.2" cy="1900.9" r="6.7" fill="#00ff00"/>
<circle cx="666.2" cy="1900.9" r="6.7" fill="#00ff00"/>
<circle cx="687.3" cy="1900.9" r="6.7" fill="#00ff00"/>
<circle cx="708.3" cy="1900.9" r="6.7" fill="#ffff00"/>
<circle cx="729.3" cy="1900.9" r="6.7" fill="#ffff00"/>
<circle cx="750.4" cy="1900.9" r="6.7" fill="#ffff00"/>
<circle cx="771.4" cy="1900.9" r="6.7" fill="#00ff00"/>
<circle cx="792.4" cy="1900.9" r="6.7" fill="#00ff00"/>
<circle cx="813.4" cy="1900.9" r="6.7" fill="#00ff00"/>
<circle cx="834.5" cy="1900.9" r="6.7" fill="#00ff00"/>
<circle cx="855.5" cy="1900.9" r="6.7" fill="#00ff00"/>
<circle cx="876.5" cy="1900.9" r="6.7" fill="#00ff00"/>
<circle cx="897.5" cy="1900.9" r="6.7" fill="#00ff00"/>
<circle cx="918.6" cy="1900.9" r="6.7" fill="#00ff00"/>
<circle cx="939.6" cy="1900.9" r="6.7" fill="#00ff00"/>
<circle cx="960.6" cy="1900.9" r="6.7" fill="#00ff00"/>
<circle cx="981.6" cy="1900.9" r="6.7" fill="#00ff00"/>
<circle cx="1002.7" cy="1900.9" r="6.7" fill="#ffff00"/>
<circle cx="1023.7" cy="1900.9" r="6.7" fill="#ffff00"/>
<circle cx="1044.7" cy="1900.9" r="6.7" fill="#ffff00"/>
<circle cx="1065.8" cy="1900.9" r="6.7" fill="#ffff00"/>
<circle cx="1086.8" cy="1900.9" r="6.7" fill="#ffff00"/>
<circle cx="1107.8" cy="1900.9" r="6.7" fill="#ffff00"/>
<circle cx="1128.8" cy="1900.9" r="6.7" fill="#ffff00"/>
<circle cx="1149.9" cy="1900.9" r="6.7" fill="#00ff00"/>
<circle cx="14.4" cy="1929.5" r="6.7" fill="#00ff00"/>
<circle cx="35.4" cy="1929.5" r="6.7" fill="#00ff00"/>
<circle cx="56.5" cy="1929.5" r="6.7" fill="#ff0000"/>
<circle cx="77.5" cy="1929.5" r="6.7" fill="#ff0000"/>
<circle cx="98.5" cy="1929.5" r="6.7" fill="#ff0000"/>
<circle cx="119.5" cy="1929.5" r="6.7" fill="#ff0000"/>
<circle cx="140.6" cy="1929.5" r="6.7" fill="#ff0000"/>
<circle cx="161.6" cy="1929.5" r="6.7" fill="#00ff00"/>
<circle cx="182.6" cy="1929.5" r="6.7" fill="#000000"/>
<circle cx="203.6" cy="1929.5" r="6.7" fill="#ff0000"/>
<circle cx="224.7" cy="1929.5" r="6.7" fill="#000000"/>
<circle cx="245.7" cy="1929.5" r="6.7" fill="#ff0000"/>
<circle cx="266.7" cy="1929.5" r="6.7" fill="#ff0000"/>
<circle cx="287.8" cy="1929.5" r="6.7" fill="#ff0000"/>
<circle cx="308.8" cy="1929.5" r="6.7" fill="#000000"/>
<circle cx="329.8" cy="1929.5" r="6.7" fill="#000000"/>
<circle cx="350.8" cy="1929.5" r="6.7" fill="#000000"/>
<circle cx="371.9" cy="1929.5" r="6.7" fill="#000000"/>
<circle cx="392.9" cy="1929.5" r="6.7" fill="#00ff00"/>
<circle cx="413.9" cy="1929.5" r="6.7" fill="#000000"/>
<circle cx="434.9" cy="1929.5" r="6.7" fill="#000000"/>
<circle cx="456.0" cy="1929.5" r="6.7" fill="#00ff00"/>
<circle cx="477.0" cy="1929.5" r="6.7" fill="#00ff00"/>
<circle cx="498.0" cy="1929.5" r="6.7" fill="#00ff00"/>
<circle cx="519.0" cy="1929.5" r="6.7" fill="#00ff00"/>
<circle cx="540.1" cy="1929.5" r="6.7" fill="#00ff00"/>
<circle cx="561.1" cy="1929.5" r="6.7" fill="#00ff00"/>
<circle cx="582.1" cy="1929.5" r="6.7" fill="#00ff00"/>
<circle cx="603.2" cy="1929.5" r="6.7" fill="#000000"/>
<circle cx="624.2" cy="1929.5" r="6.7" fill="#000000"/>
<circle cx="645.2" cy="1929.5" r="6.7" fill="#000000"/>
<circle cx="666.2" cy="1929.5" r="6.7" fill="#000000"/>
<circle cx="687.3" cy="1929.5" r="6.7" fill="#ff0000"/>
<circle cx="708.3" cy="1929.5" r="6.7" fill="#ff0000"/>
<circle cx="729.3" cy="1929.5" r="6.7" fill="#ff0000"/>
<circle cx="750.4" cy="1929.5" r="6.7" fill="#ff0000"/>
<circle cx="771.4" cy="1929.5" r="6.7" fill="#000000"/>
<circle cx="792.4" cy="1929.5" r="6.7" fill="#00ff00"/>
<circle cx="813.4" cy="1929.5" r="6.7" fill="#00ff00"/>
<circle cx="834.5" cy="1929.5" r="6.7" fill="#00ff00"/>
<circle cx="855.5" cy="1929.5" r="6.7" fill="#00ff00"/>
<circle cx="876.5" cy="1929.5" r="6.7" fill="#000000"/>
<circle cx="897.5" cy="1929.5" r="6.7" fill="#ff0000"/>
<circle cx="918.6" cy="1929.5" r="6.7" fill="#ff0000"/>
<circle cx="939.6" cy="1929.5" r="6.7" fill="#ff0000"/>
<circle cx="960.6" cy="1929.5" r="6.7" fill="#ff0000"/>
<circle cx="981.6" cy="1929.5" r="6.7" fill="#000000"/>
<circle cx="1002.7" cy="1929.5" r="6.7" fill="#000000"/>
<circle cx="1023.7" cy="1929.5" r="6.7" fill="#ff0000"/>
<circle cx="1044.7" cy="1929.5" r="6.7" fill="#ff0000"/>
<circle cx="1065.8" cy="1929.5" r="6.7" fill="#ff0000"/>
<circle cx="1086.8" cy="1929.5" r="6.7" fill="#ff0000"/>
<circle cx="1107.8" cy="1929.5" r="6.7" fill="#000000"/>
<circle cx="1128.8" cy="1929.5" r="6.7" fill="#000000"/>
<circle cx="1149.9" cy="1929.5" r="6.7" fill="#000000"/>
<circle cx="14.4" cy="1958.3" r="6.7" fill="#00ff00"/>
<circle cx="35.4" cy="1958.3" r="6.7" fill="#00ff00"/>
<circle cx="56.5" cy="1958.3" r="6.7" fill="#00ff00"/>
<circle cx="77.5" cy="1958.3" r="6.7" fill="#00ff00"/>
<circle cx="98.5" cy="1958.3" r="6.7" fill="#00ff00"/>
<circle cx="119.5" cy="1958.3" r="6.7" fill="#00ff00"/>
<circle cx="140.6" cy="1958.3" r="6.7" fill="#00ff00"/>
<circle cx="161.6" cy="1958.3" r="6.7" fill="#00ff00"/>
<circle cx="182.6" cy="1958.3" r="6.7" fill="#00ff00"/>
<circle cx="203.6" cy="1958.3" r="6.7" fill="#00ff00"/>
<circle cx="224.7" cy="1958.3" r="6.7" fill="#00ff00"/>
<circle cx="245.7" cy="1958.3" r="6.7" fill="#00ff00"/>
<circle cx="266.7" cy="1958.3" r="6.7" fill="#00ff00"/>
<circle cx="287.8" cy="1958.3" r="6.7" fill="#00ff00"/>
<circle cx="308.8" cy="1958.3" r="6.7" fill="#00ff00"/>
<circle cx="329.8" cy="1958.3" r="6.7" fill="#00ff00"/>
<circle cx="350.8" cy="1958.3" r="6.7" fill="#00ff00"/>
<circle cx="371.9" cy="1958.3" r="6.7" fill="#00ff00"/>
<circle cx="392.9" cy="1958.3" r="6.7" fill="#00ff00"/>
<circle cx="413.9" cy="1958.3" r="6.7" fill="#00ff00"/>
<circle cx="434.9" cy="1958.3" r="6.7" fill="#00ff00"/>
<circle cx="456.0" cy="1958.3" r="6.7" fill="#00ff00"/>
<circle cx="477.0" cy="1958.3" r="6.7" fill="#00ff00"/>
<circle cx="498.0" cy="1958.3" r="6.7" fill="#00ff00"/>
<circle cx="519.0" cy="1958.3" r="6.7" fill="#00ff00"/>
<circle cx="540.1" cy="1958.3" r="6.7" fill="#00ff00"/>
<circle cx="561.1" cy="1958.3" r="6.7" fill="#00ff00"/>
<circle cx="582.1" cy="1958.3" r="6.7" fill="#00ff00"/>
<circle cx="603.2" cy="1958.3" r="6.7" fill="#00ff00"/>
<circle cx="624.2" cy="1958.3" r="6.7" fill="#00ff00"/>
<circle cx="645.2" cy="1958.3" r="6.7" fill="#00ff00"/>
<circle cx="666.2" cy="1958.3" r="6.7" fill="#00ff00"/>
<circle cx="687.3" cy="1958.3" r="6.7" fill="#00ff00"/>
<circle cx="708.3" cy="1958.3" r="6.7" fill="#00ff00"/>
<circle cx="729.3" cy="1958.3" r="6.7" fill="#00ff00"/>
<circle cx="750.4" cy="1958.3" r="6.7" fill="#00ff00"/>
<circle cx="771.4" cy="1958.3" r="6.7" fill="#00ff00"/>
<circle cx="792.4" cy="1958.3" r="6.7" fill="#00ff00"/>
<circle cx="813.4" cy="1958.3" r="6.7" fill="#00ff00"/>
<circle cx="834.5" cy="1958.3" r="6.7" fill="#00ff00"/>
<circle cx="855.5" cy="1958.3" r="6.7" fill="#00ff00"/>
<circle cx="876.5" cy="1958.3" r="6.7" fill="#00ff00"/>
<circle cx="897.5" cy="1958.3" r="6.7" fill="#00ff00"/>
<circle cx="918.6" cy="1958.3" r="6.7" fill="#00ff00"/>
<circle cx="939.6" cy="1958.3" r="6.7" fill="#00ff00"/>
<circle cx="960.6" cy="1958.3" r="6.7" fill="#00ff00"/>
<circle cx="981.6" cy="1958.3" r="6.7" fill="#00ff00"/>
<circle cx="1002.7" cy="1958.3" r="6.7" fill="#00ff00"/>
<circle cx="1023.7" cy="1958.3" r="6.7" fill="#00ff00"/>
<circle cx="1044.7" cy="1958.3" r="6.7" fill="#00ff00"/>
<circle cx="1065.8" cy="1958.3" r="6.7" fill="#00ff00"/>
<circle cx="1086.8" cy="1958.3" r="6.7" fill="#00ff00"/>
<circle cx="1107.8" cy="1958.3" r="6.7" fill="#00ff00"/>
<circle cx="1128.8" cy="1958.3" r="6.7" fill="#00ff00"/>
<circle cx="1149.9" cy="1958.3" r="6.7" fill="#00ff00"/>
<circle cx="14.4" cy="1986.8" r="6.7" fill="#00ff00"/>
<circle cx="35.4" cy="1986.8" r="6.7" fill="#00ff00"/>
<circle cx="56.5" cy="1986.8" r="6.7" fill="#000000"/>
<circle cx="77.5" cy="1986.8" r="6.7" fill="#000000"/>
<circle cx="98.5" cy="1986.8" r="6.7" fill="#000000"/>
<circle cx="119.5" cy="1986.8" r="6.7" fill="#000000"/>
<circle cx="140.6" cy="1986.8" r="6.7" fill="#000000"/>
<circle cx="161.6" cy="1986.8" r="6.7" fill="#000000"/>
<circle cx="182.6" cy="1986.8" r="6.7" fill="#000000"/>
<circle cx="203.6" cy="1986.8" r="6.7" fill="#000000"/>
<circle cx="224.7" cy="1986.8" r="6.7" fill="#000000"/>
<circle cx="245.7" cy="1986.8" r="6.7" fill="#000000"/>
<circle cx="266.7" cy="1986.8" r="6.7" fill="#000000"/>
<circle cx="287.8" cy="1986.8" r="6.7" fill="#000000"/>
<circle cx="308.8" cy="1986.8" r="6.7" fill="#000000"/>
<circle cx="329.8" cy="1986.8" r="6.7" fill="#000000"/>
<circle cx="350.8" cy="1986.8" r="6.7" fill="#000000"/>
<circle cx="371.9" cy="1986.8" r="6.7" fill="#000000"/>
<circle cx="392.9" cy="1986.8" r="6.7" fill="#000000"/>
<circle cx="413.9" cy="1986.8" r="6.7" fill="#000000"/>
<circle cx="434.9" cy="1986.8" r="6.7" fill="#000000"/>
<circle cx="456.0" cy="1986.8" r="6.7" fill="#000000"/>
<circle cx="477.0" cy="1986.8" r="6.7" fill="#00ff00"/>
<circle cx="498.0" cy="1986.8" r="6.7" fill="#00ff00"/>
<circle cx="519.0" cy="1986.8" r="6.7" fill="#00ff00"/>
<circle cx="540.1" cy="1986.8" r="6.7" fill="#00ff00"/>
<circle cx="561.1" cy="1986.8" r="6.7" fill="#00ff00"/>
<circle cx="582.1" cy="1986.8" r="6.7" fill="#00ff00"/>
<circle cx="603.2" cy="1986.8" r="6.7" fill="#00ff00"/>
<circle cx="624.2" cy="1986.8" r="6.7" fill="#00ff00"/>
<circle cx="645.2" cy="1986.8" r="6.7" fill="#00ff00"/>
<circle cx="666.2" cy="1986.8" r="6.7" fill="#00ff00"/>
<circle cx="687.3" cy="1986.8" r="6.7" fill="#00ff00"/>
<circle cx="708.3" cy="1986.8" r="6.7" fill="#00ff00"/>
<circle cx="729.3" cy="1986.8" r="6.7" fill="#000000"/>
<circle cx="750.4" cy="1986.8" r="6.7" fill="#000000"/>
<circle cx="771.4" cy="1986.8" r="6.7" fill="#000000"/>
<circle cx="792.4" cy="1986.8" r="6.7" fill="#000000"/>
<circle cx="813.4" cy="1986.8" r="6.7" fill="#00ff00"/>
<circle cx="834.5" cy="1986.8" r="6.7" fill="#00ff00"/>
<circle cx="855.5" cy="1986.8" r="6.7" fill="#00ff00"/>
<circle cx="876.5" cy="1986.8" r="6.7" fill="#00ff00"/>
<circle cx="897.5" cy="1986.8" r="6.7" fill="#00ff00"/>
<circle cx="918.6" cy="1986.8" r="6.7" fill="#00ff00"/>
<circle cx="939.6" cy="1986.8" r="6.7" fill="#00ff00"/>
<circle cx="960.6" cy="1986.8" r="6.7" fill="#000000"/>
<circle cx="981.6" cy="1986.8" r="6.7" fill="#000000"/>
<circle cx="1002.7" cy="1986.8" r="6.7" fill="#000000"/>
<circle cx="1023.7" cy="1986.8" r="6.7" fill="#000000"/>
<circle cx="1044.7" cy="1986.8" r="6.7" fill="#000000"/>
<circle cx="1065.8" cy="1986.8" r="6.7" fill="#000000"/>
<circle cx="1086.8" cy="1986.8" r="6.7" fill="#000000"/>
<circle cx="1107.8" cy="1986.8" r="6.7" fill="#000000"/>
<circle cx="1128.8" cy="1986.8" r="6.7" fill="#000000"/>
<circle cx="1149.9" cy="1986.8" r="6.7" fill="#000000"/>
<circle cx="14.4" cy="2015.9" r="6.7" fill="#000000"/>
<circle cx="35.4" cy="2015.9" r="6.7" fill="#000000"/>
<circle cx="56.5" cy="2015.9" r="6.7" fill="#000000"/>
<circle cx="77.5" cy="2015.9" r="6.7" fill="#000000"/>
<circle cx="98.5" cy="2015.9" r="6.7" fill="#000000"/>
<circle cx="119.5" cy="2015.9" r="6.7" fill="#000000"/>
<circle cx="140.6" cy="2015.9" r="6.7" fill="#000000"/>
<circle cx="161.6" cy="2015.9" r="6.7" fill="#000000"/>
<circle cx="182.6" cy="2015.9" r="6.7" fill="#000000"/>
<circle cx="203.6" cy="2015.9" r="6.7" fill="#000000"/>
<circle cx="224.7" cy="2015.9" r="6.7" fill="#000000"/>
<circle cx="245.7" cy="2015.9" r="6.7" fill="#000000"/>
<circle cx="266.7" cy="2015.9" r="6.7" fill="#ff0000"/>
<circle cx="287.8" cy="2015.9" r="6.7" fill="#ff0000"/>
<circle cx="308.8" cy="2015.9" r="6.7" fill="#ff0000"/>
<circle cx="329.8" cy="2015.9" r="6.7" fill="#ff0000"/>
<circle cx="350.8" cy="2015.9" r="6.7" fill="#ff0000"/>
<circle cx="371.9" cy="2015.9" r="6.7" fill="#ff0000"/>
<circle cx="392.9" cy="2015.9" r="6.7" fill="#000000"/>
<circle cx="413.9" cy="2015.9" r="6.7" fill="#000000"/>
<circle cx="434.9" cy="2015.9" r="6.7" fill="#000000"/>
<circle cx="456.0" cy="2015.9" r="6.7" fill="#00ff00"/>
<circle cx="477.0" cy="2015.9" r="6.7" fill="#00ff00"/>
<circle cx="498.0" cy="2015.9" r="6.7" fill="#00ff00"/>
<circle cx="519.0" cy="2015.9" r="6.7" fill="#00ff00"/>
<circle cx="540.1" cy="2015.9" r="6.7" fill="#00ff00"/>
<circle cx="561.1" cy="2015.9" r="6.7" fill="#00ff00"/>
<circle cx="582.1" cy="2015.9" r="6.7" fill="#00ff00"/>
<circle cx="603.2" cy="2015.9" r="6.7" fill="#00ff00"/>
<circle cx="624.2" cy="2015.9" r="6.7" fill="#00ff00"/>
<circle cx="645.2" cy="2015.9" r="6.7" fill="#00ff00"/>
<circle cx="666.2" cy="2015.9" r="6.7" fill="#00ff00"/>
<circle cx="687.3" cy="2015.9" r="6.7" fill="#000000"/>
<circle cx="708.3" cy="2015.9" r="6.7" fill="#000000"/>
<circle cx="729.3" cy="2015.9" r="6.7" fill="#000000"/>
<circle cx="750.4" cy="2015.9" r="6.7" fill="#000000"/>
<circle cx="771.4" cy="2015.9" r="6.7" fill="#000000"/>
<circle cx="792.4" cy="2015.9" r="6.7" fill="#000000"/>
<circle cx="813.4" cy="2015.9" r="6.7" fill="#000000"/>
<circle cx="834.5" cy="2015.9" r="6.7" fill="#00ff00"/>
<circle cx="855.5" cy="2015.9" r="6.7" fill="#00ff00"/>
<circle cx="876.5" cy="2015.9" r="6.7" fill="#00ff00"/>
<circle cx="897.5" cy="2015.9" r="6.7" fill="#00ff00"/>
<circle cx="918.6" cy="2015.9" r="6.7" fill="#000000"/>
<circle cx="939.6" cy="2015.9" r="6.7" fill="#000000"/>
<circle cx="960.6" cy="2015.9" r="6.7" fill="#000000"/>
<circle cx="981.6" cy="2015.9" r="6.7" fill="#000000"/>
<circle cx="1002.7" cy="2015.9" r="6.7" fill="#000000"/>
<circle cx="1023.7" cy="2015.9" r="6.7" fill="#000000"/>
<circle cx="1044.7" cy="2015.9" r="6.7" fill="#000000"/>
<circle cx="1065.8" cy="2015.9" r="6.7" fill="#000000"/>
<circle cx="1086.8" cy="2015.9" r="6.7" fill="#ff0000"/>
<circle cx="1107.8" cy="2015.9" r="6.7" fill="#ff0000"/>
<circle cx="1128.8" cy="2015.9" r="6.7" fill="#ff0000"/>
<circle cx="1149.9" cy="2015.9" r="6.7" fill="#ff0000"/>
<circle cx="14.4" cy="2044.5" r="6.7" fill="#00ff00"/>
<circle cx="35.4" cy="2044.5" r="6.7" fill="#00ff00"/>
<circle cx="56.5" cy="2044.5" r="6.7" fill="#00ff00"/>
<circle cx="77.5" cy="2044.5" r="6.7" fill="#00ff00"/>
<circle cx="98.5" cy="2044.5" r="6.7" fill="#00ff00"/>
<circle cx="119.5" cy="2044.5" r="6.7" fill="#00ff00"/>
<circle cx="140.6" cy="2044.5" r="6.7" fill="#00ff00"/>
<circle cx="161.6" cy="2044.5" r="6.7" fill="#00ff00"/>
<circle cx="182.6" cy="2044.5" r="6.7" fill="#00ff00"/>
<circle cx="203.6" cy="2044.5" r="6.7" fill="#00ff00"/>
<circle cx="224.7" cy="2044.5" r="6.7" fill="#00ff00"/>
<circle cx="245.7" cy="2044.5" r="6.7" fill="#00ff00"/>
<circle cx="266.7" cy="2044.5" r="6.7" fill="#00ff00"/>
<circle cx="287.8" cy="2044.5" r="6.7" fill="#00ff00"/>
<circle cx="308.8" cy="2044.5" r="6.7" fill="#00ff00"/>
<circle cx="329.8" cy="2044.5" r="6.7" fill="#00ff00"/>
<circle cx="350.8" cy="2044.5" r="6.7" fill="#00ff00"/>
<circle cx="371.9" cy="2044.5" r="6.7" fill="#00ff00"/>
<circle cx="392.9" cy="2044.5" r="6.7" fill="#00ff00"/>
<circle cx="413.9" cy="2044.5" r="6.7" fill="#00ff00"/>
<circle cx="434.9" cy="2044.5" r="6.7" fill="#00ff00"/>
<circle cx="456.0" cy="2044.5" r="6.7" fill="#00ff00"/>
<circle cx="477.0" cy="2044.5" r="6.7" fill="#00ff00"/>
<circle cx="498.0" cy="2044.5" r="6.7" fill="#00ff00"/>
<circle cx="519.0" cy="2044.5" r="6.7" fill="#00ff00"/>
<circle cx="540.1" cy="2044.5" r="6.7" fill="#00ff00"/>
<circle cx="561.1" cy="2044.5" r="6.7" fill="#00ff00"/>
<circle cx="582.1" cy="2044.5" r="6.7" fill="#00ff00"/>
<circle cx="603.2" cy="2044.5" r="6.7" fill="#00ff00"/>
<circle cx="624.2" cy="2044.5" r="6.7" fill="#00ff00"/>
<circle cx="645.2" cy="2044.5" r="6.7" fill="#00ff00"/>
<circle cx="666.2" cy="2044.5" r="6.7" fill="#00ff00"/>
<circle cx="687.3" cy="2044.5" r="6.7" fill="#00ff00"/>
<circle cx="708.3" cy="2044.5" r="6.7" fill="#00ff00"/>
<circle cx="729.3" cy="2044.5" r="6.7" fill="#00ff00"/>
<circle cx="750.4" cy="2044.5" r="6.7" fill="#00ff00"/>
<circle cx="771.4" cy="2044.5" r="6.7" fill="#00ff00"/>
<circle cx="792.4" cy="2044.5" r="6.7" fill="#00ff00"/>
<circle cx="813.4" cy="2044.5" r="6.7" fill="#00ff00"/>
<circle cx="834.5" cy="2044.5" r="6.7" fill="#00ff00"/>
<circle cx="855.5" cy="2044.5" r="6.7" fill="#00ff00"/>
<circle cx="876.5" cy="2044.5" r="6.7" fill="#00ff00"/>
<circle cx="897.5" cy="2044.5" r="6.7" fill="#00ff00"/>
<circle cx="918.6" cy="2044.5" r="6.7" fill="#00ff00"/>
<circle cx="939.6" cy="2044.5" r="6.7" fill="#00ff00"/>
<circle cx="960.6" cy="2044.5" r="6.7" fill="#00ff00"/>
<circle cx="981.6" cy="2044.5" r="6.7" fill="#00ff00"/>
<circle cx="1002.7" cy="2044.5" r="6.7" fill="#00ff00"/>
<circle cx="1023.7" cy="2044.5" r="6.7" fill="#00ff00"/>
<circle cx="1044.7" cy="2044.5" r="6.7" fill="#00ff00"/>
<circle cx="1065.8" cy="2044.5" r="6.7" fill="#00ff00"/>
<circle cx="1086.8" cy="2044.5" r="6.7" fill="#00ff00"/>
<circle cx="1107.8" cy="2044.5" r="6.7" fill="#00ff00"/>
<circle cx="1128.8" cy="2044.5" r="6.7" fill="#00ff00"/>
<circle cx="1149.9" cy="2044.5" r="6.7" fill="#00ff00"/>
<circle cx="14.4" cy="2088.8" r="6.7" fill="#00ff00"/>
<circle cx="35.4" cy="2088.8" r="6.7" fill="#ff0000"/>
<circle cx="56.5" cy="2088.8" r="6.7" fill="#ff0000"/>
<circle cx="77.5" cy="2088.8" r="6.7" fill="#ff0000"/>
<circle cx="98.5" cy="2088.8" r="6.7" fill="#ff0000"/>
<circle cx="119.5" cy="2088.8" r="6.7" fill="#ff0000"/>
<circle cx="140.6" cy="2088.8" r="6.7" fill="#00ff00"/>
<circle cx="161.6" cy="2088.8" r="6.7" fill="#00ff00"/>
<circle cx="182.6" cy="2088.8" r="6.7" fill="#00ff00"/>
<circle cx="203.6" cy="2088.8" r="6.7" fill="#00ff00"/>
<circle cx="224.7" cy="2088.8" r="6.7" fill="#ff0000"/>
<circle cx="245.7" cy="2088.8" r="6.7" fill="#ff0000"/>
<circle cx="266.7" cy="2088.8" r="6.7" fill="#ff0000"/>
<circle cx="287.8" cy="2088.8" r="6.7" fill="#ff0000"/>
<circle cx="308.8" cy="2088.8" r="6.7" fill="#00ff00"/>
<circle cx="329.8" cy="2088.8" r="6.7" fill="#00ff00"/>
<circle cx="350.8" cy="2088.8" r="6.7" fill="#00ff00"/>
<circle cx="371.9" cy="2088.8" r="6.7" fill="#00ff00"/>
<circle cx="392.9" cy="2088.8" r="6.7" fill="#00ff00"/>
<circle cx="413.9" cy="2088.8" r="6.7" fill="#00ff00"/>
<circle cx="434.9" cy="2088.8" r="6.7" fill="#00ff00"/>
<circle cx="456.0" cy="2088.8" r="6.7" fill="#00ff00"/>
<circle cx="477.0" cy="2088.8" r="6.7" fill="#00ff00"/>
<circle cx="477.0" cy="2088.8" r="3.4" fill="#ff0000"/>
<circle cx="498.0" cy="2088.8" r="6.7" fill="#00ff00"/>
<circle cx="498.0" cy="2088.8" r="3.4" fill="#ff0000"/>
<circle cx="519.0" cy="2088.8" r="6.7" fill="#00ff00"/>
<circle cx="519.0" cy="2088.8" r="3.4" fill="#ff0000"/>
<circle cx="540.1" cy="2088.8" r="6.7" fill="#00ff00"/>
<circle cx="540.1" cy="2088.8" r="3.4" fill="#ff0000"/>
<circle cx="561.1" cy="2088.8" r="6.7" fill="#00ff00"/>
<circle cx="561.1" cy="2088.8" r="3.4" fill="#ff0000"/>
<circle cx="582.1" cy="2088.8" r="6.7" fill="#00ff00"/>
<circle cx="582.1" cy="2088.8" r="3.4" fill="#ff0000"/>
<circle cx="603.2" cy="2088.8" r="6.7" fill="#ff0000"/>
<circle cx="624.2" cy="2088.8" r="6.7" fill="#ff0000"/>
<circle cx="645.2" cy="2088.8" r="6.7" fill="#ff0000"/>
<circle cx="666.2" cy="2088.8" r="6.7" fill="#ff0000"/>
<circle cx="687.3" cy="2088.8" r="6.7" fill="#ff0000"/>
<circle cx="708.3" cy="2088.8" r="6.7" fill="#ff0000"/>
<circle cx="729.3" cy="2088.8" r="6.7" fill="#ff0000"/>
<circle cx="750.4" cy="2088.8" r="6.7" fill="#ff0000"/>
<circle cx="771.4" cy="2088.8" r="6.7" fill="#ff0000"/>
<circle cx="792.4" cy="2088.8" r="6.7" fill="#00ff00"/>
<circle cx="813.4" cy="2088.8" r="6.7" fill="#00ff00"/>
<circle cx="813.4" cy="2088.8" r="3.4" fill="#ff0000"/>
<circle cx="834.5" cy="2088.8" r="6.7" fill="#00ff00"/>
<circle cx="834.5" cy="2088.8" r="3.4" fill="#ff0000"/>
<circle cx="855.5" cy="2088.8" r="6.7" fill="#00ff00"/>
<circle cx="855.5" cy="2088.8" r="3.4" fill="#ff0000"/>
<circle cx="876.5" cy="2088.8" r="6.7" fill="#ff0000"/>
<circle cx="897.5" cy="2088.8" r="6.7" fill="#ff0000"/>
<circle cx="918.6" cy="2088.8" r="6.7" fill="#ff0000"/>
<circle cx="939.6" cy="2088.8" r="6.7" fill="#ff0000"/>
<circle cx="960.6" cy="2088.8" r="6.7" fill="#ff0000"/>
<circle cx="981.6" cy="2088.8" r="6.7" fill="#ff0000"/>
<circle cx="1002.7" cy="2088.8" r="6.7" fill="#ff0000"/>
<circle cx="1023.7" cy="2088.8" r="6.7" fill="#ff0000"/>
<circle cx="1044.7" cy="2088.8" r="6.7" fill="#ff0000"/>
<circle cx="1065.8" cy="2088.8" r="6.7" fill="#ff0000"/>
<circle cx="1086.8" cy="2088.8" r="6.7" fill="#ff0000"/>
<circle cx="1107.8" cy="2088.8" r="6.7" fill="#ff0000"/>
<circle cx="1128.8" cy="2088.8" r="6.7" fill="#00ff00"/>
<circle cx="1149.9" cy="2088.8" r="6.7" fill="#00ff00"/>
<circle cx="14.4" cy="2111.8" r="6.7" fill="#ff0000"/>
<circle cx="35.4" cy="2111.8" r="6.7" fill="#ff0000"/>
<circle cx="56.5" cy="2111.8" r="6.7" fill="#ff0000"/>
<circle cx="77.5" cy="2111.8" r="6.7" fill="#ff0000"/>
<circle cx="98.5" cy="2111.8" r="6.7" fill="#ff0000"/>
<circle cx="119.5" cy="2111.8" r="6.7" fill="#ff0000"/>
<circle cx="140.6" cy="2111.8" r="6.7" fill="#ff0000"/>
<circle cx="161.6" cy="2111.8" r="6.7" fill="#ff0000"/>
<circle cx="182.6" cy="2111.8" r="6.7" fill="#ff0000"/>
<circle cx="203.6" cy="2111.8" r="6.7" fill="#ff0000"/>
<circle cx="224.7" cy="2111.8" r="6.7" fill="#ff0000"/>
<circle cx="245.7" cy="2111.8" r="6.7" fill="#ff0000"/>
<circle cx="266.7" cy="2111.8" r="6.7" fill="#ff0000"/>
<circle cx="287.8" cy="2111.8" r="6.7" fill="#ff0000"/>
<circle cx="308.8" cy="2111.8" r="6.7" fill="#ff0000"/>
<circle cx="329.8" cy="2111.8" r="6.7" fill="#ff0000"/>
<circle cx="350.8" cy="2111.8" r="6.7" fill="#ff0000"/>
<circle cx="371.9" cy="2111.8" r="6.7" fill="#ff0000"/>
<circle cx="392.9" cy="2111.8" r="6.7" fill="#00ff00"/>
<circle cx="413.9" cy="2111.8" r="6.7" fill="#00ff00"/>
<circle cx="434.9" cy="2111.8" r="6.7" fill="#00ff00"/>
<circle cx="456.0" cy="2111.8" r="6.7" fill="#00ff00"/>
<circle cx="477.0" cy="2111.8" r="6.7" fill="#00ff00"/>
<circle cx="498.0" cy="2111.8" r="6.7" fill="#00ff00"/>
<circle cx="519.0" cy="2111.8" r="6.7" fill="#00ff00"/>
<circle cx="540.1" cy="2111.8" r="6.7" fill="#00ff00"/>
<circle cx="540.1" cy="2111.8" r="3.4" fill="#ff0000"/>
<circle cx="561.1" cy="2111.8" r="6.7" fill="#00ff00"/>
<circle cx="561.1" cy="2111.8" r="3.4" fill="#ff0000"/>
<circle cx="582.1" cy="2111.8" r="6.7" fill="#00ff00"/>
<circle cx="582.1" cy="2111.8" r="3.4" fill="#ff0000"/>
<circle cx="603.2" cy="2111.8" r="6.7" fill="#00ff00"/>
<circle cx="603.2" cy="2111.8" r="3.4" fill="#ff0000"/>
<circle cx="624.2" cy="2111.8" r="6.7" fill="#00ff00"/>
<circle cx="624.2" cy="2111.8" r="3.4" fill="#ff0000"/>
<circle cx="645.2" cy="2111.8" r="6.7" fill="#00ff00"/>
<circle cx="645.2" cy="2111.8" r="3.4" fill="#ff0000"/>
<circle cx="666.2" cy="2111.8" r="6.7" fill="#00ff00"/>
<circle cx="666.2" cy="2111.8" r="3.4" fill="#ff0000"/>
<circle cx="687.3" cy="2111.8" r="6.7" fill="#ff0000"/>
<circle cx="708.3" cy="2111.8" r="6.7" fill="#ff0000"/>
<circle cx="729.3" cy="2111.8" r="6.7" fill="#ff0000"/>
<circle cx="750.4" cy="2111.8" r="6.7" fill="#ff0000"/>
<circle cx="771.4" cy="2111.8" r="6.7" fill="#ff0000"/>
<circle cx="792.4" cy="2111.8" r="6.7" fill="#ff0000"/>
<circle cx="813.4" cy="2111.8" r="6.7" fill="#ff0000"/>
<circle cx="834.5" cy="2111.8" r="6.7" fill="#ff0000"/>
<circle cx="855.5" cy="2111.8" r="6.7" fill="#ff0000"/>
<circle cx="876.5" cy="2111.8" r="6.7" fill="#ff0000"/>
<circle cx="897.5" cy="2111.8" r="6.7" fill="#ff0000"/>
<circle cx="918.6" cy="2111.8" r="6.7" fill="#00ff00"/>
<circle cx="918.6" cy="2111.8" r="3.4" fill="#ff0000"/>
<circle cx="939.6" cy="2111.8" r="6.7" fill="#00ff00"/>
<circle cx="939.6" cy="2111.8" r="3.4" fill="#ff0000"/>
<circle cx="960.6" cy="2111.8" r="6.7" fill="#ff0000"/>
<circle cx="981.6" cy="2111.8" r="6.7" fill="#ff0000"/>
<circle cx="1002.7" cy="2111.8" r="6.7" fill="#ff0000"/>
<circle cx="1023.7" cy="2111.8" r="6.7" fill="#ff0000"/>
<circle cx="1044.7" cy="2111.8" r="6.7" fill="#ff0000"/>
<circle cx="1065.8" cy="2111.8" r="6.7" fill="#ff0000"/>
<circle cx="1086.8" cy="2111.8" r="6.7" fill="#ff0000"/>
<circle cx="1107.8" cy="2111.8" r="6.7" fill="#ff0000"/>
<circle cx="1128.8" cy="2111.8" r="6.7" fill="#ff0000"/>
<circle cx="1149.9" cy="2111.8" r="6.7" fill="#ff0000"/>
<circle cx="14.4" cy="2134.2" r="6.7" fill="#00ff00"/>
<circle cx="14.4" cy="2134.2" r="3.4" fill="#ff0000"/>
<circle cx="35.4" cy="2134.2" r="6.7" fill="#00ff00"/>
<circle cx="35.4" cy="2134.2" r="3.4" fill="#ff0000"/>
<circle cx="56.5" cy="2134.2" r="6.7" fill="#00ff00"/>
<circle cx="56.5" cy="2134.2" r="3.4" fill="#ff0000"/>
<circle cx="77.5" cy="2134.2" r="6.7" fill="#00ff00"/>
<circle cx="77.5" cy="2134.2" r="3.4" fill="#ff0000"/>
<circle cx="98.5" cy="2134.2" r="6.7" fill="#ff0000"/>
<circle cx="119.5" cy="2134.2" r="6.7" fill="#ff0000"/>
<circle cx="140.6" cy="2134.2" r="6.7" fill="#ff0000"/>
<circle cx="161.6" cy="2134.2" r="6.7" fill="#ff0000"/>
<circle cx="182.6" cy="2134.2" r="6.7" fill="#ff0000"/>
<circle cx="203.6" cy="2134.2" r="6.7" fill="#ff0000"/>
<circle cx="224.7" cy="2134.2" r="6.7" fill="#ff0000"/>
<circle cx="245.7" cy="2134.2" r="6.7" fill="#ff0000"/>
<circle cx="266.7" cy="2134.2" r="6.7" fill="#ff0000"/>
<circle cx="287.8" cy="2134.2" r="6.7" fill="#ff0000"/>
<circle cx="308.8" cy="2134.2" r="6.7" fill="#ff0000"/>
<circle cx="329.8" cy="2134.2" r="6.7" fill="#ff0000"/>
<circle cx="350.8" cy="2134.2" r="6.7" fill="#ff0000"/>
<circle cx="371.9" cy="2134.2" r="6.7" fill="#ff0000"/>
<circle cx="392.9" cy="2134.2" r="6.7" fill="#ff0000"/>
<circle cx="413.9" cy="2134.2" r="6.7" fill="#ff0000"/>
<circle cx="434.9" cy="2134.2" r="6.7" fill="#ff0000"/>
<circle cx="456.0" cy="2134.2" r="6.7" fill="#ff0000"/>
<circle cx="477.0" cy="2134.2" r="6.7" fill="#ff0000"/>
<circle cx="498.0" cy="2134.2" r="6.7" fill="#ff0000"/>
<circle cx="519.0" cy="2134.2" r="6.7" fill="#00ff00"/>
<circle cx="540.1" cy="2134.2" r="6.7" fill="#00ff00"/>
<circle cx="561.1" cy="2134.2" r="6.7" fill="#00ff00"/>
<circle cx="582.1" cy="2134.2" r="6.7" fill="#00ff00"/>
<circle cx="603.2" cy="2134.2" r="6.7" fill="#00ff00"/>
<circle cx="603.2" cy="2134.2" r="3.4" fill="#ff0000"/>
<circle cx="624.2" cy="2134.2" r="6.7" fill="#00ff00"/>
<circle cx="624.2" cy="2134.2" r="3.4" fill="#ff0000"/>
<circle cx="645.2" cy="2134.2" r="6.7" fill="#00ff00"/>
<circle cx="645.2" cy="2134.2" r="3.4" fill="#ff0000"/>
<circle cx="666.2" cy="2134.2" r="6.7" fill="#00ff00"/>
<circle cx="666.2" cy="2134.2" r="3.4" fill="#ff0000"/>
<circle cx="687.3" cy="2134.2" r="6.7" fill="#00ff00"/>
<circle cx="687.3" cy="2134.2" r="3.4" fill="#ff0000"/>
<circle cx="708.3" cy="2134.2" r="6.7" fill="#00ff00"/>
<circle cx="708.3" cy="2134.2" r="3.4" fill="#ff0000"/>
<circle cx="729.3" cy="2134.2" r="6.7" fill="#00ff00"/>
<circle cx="729.3" cy="2134.2" r="3.4" fill="#ff0000"/>
<circle cx="750.4" cy="2134.2" r="6.7" fill="#00ff00"/>
<circle cx="750.4" cy="2134.2" r="3.4" fill="#ff0000"/>
<circle cx="771.4" cy="2134.2" r="6.7" fill="#00ff00"/>
<circle cx="771.4" cy="2134.2" r="3.4" fill="#ff0000"/>
<circle cx="792.4" cy="2134.2" r="6.7" fill="#00ff00"/>
<circle cx="792.4" cy="2134.2" r="3.4" fill="#ff0000"/>
<circle cx="813.4" cy="2134.2" r="6.7" fill="#00ff00"/>
<circle cx="813.4" cy="2134.2" r="3.4" fill="#ff0000"/>
<circle cx="834.5" cy="2134.2" r="6.7" fill="#ff0000"/>
<circle cx="855.5" cy="2134.2" r="6.7" fill="#ff0000"/>
<circle cx="876.5" cy="2134.2" r="6.7" fill="#ff0000"/>
<circle cx="897.5" cy="2134.2" r="6.7" fill="#ff0000"/>
<circle cx="918.6" cy="2134.2" r="6.7" fill="#ff0000"/>
<circle cx="939.6" cy="2134.2" r="6.7" fill="#ff0000"/>
<circle cx="960.6" cy="2134.2" r="6.7" fill="#ff0000"/>
<circle cx="981.6" cy="2134.2" r="6.7" fill="#ff0000"/>
<circle cx="1002.7" cy="2134.2" r="6.7" fill="#ff0000"/>
<circle cx="1023.7" cy="2134.2" r="6.7" fill="#ff0000"/>
<circle cx="1044.7" cy="2134.2" r="6.7" fill="#ff0000"/>
<circle cx="1065.8" cy="2134.2" r="6.7" fill="#ff0000"/>
<circle cx="1086.8" cy="2134.2" r="6.7" fill="#ff0000"/>
<circle cx="1107.8" cy="2134.2" r="6.7" fill="#ff0000"/>
<circle cx="1128.8" cy="2134.2" r="6.7" fill="#ff0000"/>
<circle cx="1149.9" cy="2134.2" r="6.7" fill="#ff0000"/>
</g>
<line x1="16.9" y1="2174.2" x2="1277" y2="2174.2" stroke="#00ff00" stroke-width="1.55" stroke-dasharray="8.8 9.6" opacity="1"/>
<line x1="16.9" y1="2194.2" x2="1277" y2="2194.2" stroke="#1eff1e" stroke-width="1.55" stroke-dasharray="8.8 9.6" opacity="1"/>
<line x1="16.9" y1="2214.1" x2="1277" y2="2214.1" stroke="#46ff46" stroke-width="1.55" stroke-dasharray="8.8 9.6" opacity="1"/>
<line x1="16.9" y1="2234.1" x2="1277" y2="2234.1" stroke="#82ff82" stroke-width="1.55" stroke-dasharray="8.8 9.6" opacity="1"/>
<line x1="16.9" y1="2254.1" x2="1277" y2="2254.1" stroke="#cccccc" stroke-width="1.55" stroke-dasharray="8.8 9.6" opacity="1"/>
<line x1="16.9" y1="2274.1" x2="1277" y2="2274.1" stroke="#ff9292" stroke-width="1.55" stroke-dasharray="8.8 9.6" opacity="1"/>
<line x1="16.9" y1="2294.0" x2="1277" y2="2294.0" stroke="#ff5c5c" stroke-width="1.55" stroke-dasharray="8.8 9.6" opacity="1"/>
<line x1="16.9" y1="2314.0" x2="1277" y2="2314.0" stroke="#ff2e2e" stroke-width="1.55" stroke-dasharray="8.8 9.6" opacity="1"/>
<line x1="16.9" y1="2334.0" x2="1277" y2="2334.0" stroke="#ff0000" stroke-width="1.55" stroke-dasharray="8.8 9.6" opacity="1"/>
<g clip-path="url(#plot)">
<circle cx="14.4" cy="2234.1" r="6.7" fill="#ff00ff"/>
<circle cx="35.4" cy="2234.1" r="6.7" fill="#00ff00"/>
<circle cx="56.5" cy="2254.1" r="6.7" fill="#ffc107"/>
<circle cx="56.5" cy="2314.0" r="3.4" fill="#ff0000"/>
<circle cx="56.5" cy="2334.0" r="6.7" fill="#000000"/>
<circle cx="77.5" cy="2314.0" r="6.7" fill="#0a7a0a"/>
<circle cx="98.5" cy="2274.1" r="6.7" fill="#00eeff"/>
<circle cx="98.5" cy="2294.0" r="6.7" fill="#0000ff"/>
<circle cx="140.6" cy="2294.0" r="5" fill="#999999"/>
<circle cx="161.6" cy="2234.1" r="6.7" fill="#ff00ff"/>
<circle cx="182.6" cy="2254.1" r="6.7" fill="#ffc107"/>
<circle cx="182.6" cy="2334.0" r="6.7" fill="#000000"/>
<circle cx="224.7" cy="2254.1" r="3.4" fill="#00eeff"/>
<circle cx="224.7" cy="2274.1" r="6.7" fill="#00eeff"/>
<circle cx="266.7" cy="2254.1" r="3.4" fill="#00eeff"/>
<circle cx="266.7" cy="2294.0" r="6.7" fill="#0000ff"/>
<circle cx="266.7" cy="2314.0" r="6.7" fill="#0a7a0a"/>
<circle cx="350.8" cy="2194.2" r="6.7" fill="#ff80e6"/>
<circle cx="392.9" cy="2234.1" r="6.7" fill="#ff00ff"/>
<circle cx="413.9" cy="2194.2" r="3.2" fill="#00ff00"/>
<circle cx="413.9" cy="2254.1" r="6.7" fill="#ffc107"/>
<circle cx="413.9" cy="2334.0" r="6.7" fill="#000000"/>
<circle cx="456.0" cy="2234.1" r="6.7" fill="#ff00ff"/>
<circle cx="477.0" cy="2214.1" r="6.7" fill="#0000ff"/>
<circle cx="498.0" cy="2214.1" r="6.7" fill="#0000ff"/>
<circle cx="519.0" cy="2214.1" r="6.7" fill="#0000ff"/>
<circle cx="540.1" cy="2214.1" r="6.7" fill="#0000ff"/>
<circle cx="561.1" cy="2214.1" r="6.7" fill="#0000ff"/>
<circle cx="582.1" cy="2214.1" r="6.7" fill="#0000ff"/>
<circle cx="645.2" cy="2234.1" r="6.7" fill="#00ff00"/>
<circle cx="645.2" cy="2314.0" r="6.7" fill="#ff80e6"/>
<circle cx="666.2" cy="2254.1" r="6.7" fill="#ff0000"/>
<circle cx="687.3" cy="2254.1" r="6.7" fill="#ffc107"/>
<circle cx="708.3" cy="2294.0" r="6.7" fill="#0000ff"/>
<circle cx="708.3" cy="2314.0" r="3.4" fill="#ff0000"/>
<circle cx="729.3" cy="2274.1" r="6.7" fill="#00eeff"/>
<circle cx="750.4" cy="2294.0" r="6.7" fill="#0000ff"/>
<circle cx="771.4" cy="2234.1" r="6.7" fill="#00ff00"/>
<circle cx="792.4" cy="2234.1" r="6.7" fill="#ff00ff"/>
<circle cx="813.4" cy="2194.2" r="3.2" fill="#00ff00"/>
<circle cx="813.4" cy="2214.1" r="6.7" fill="#0000ff"/>
<circle cx="834.5" cy="2254.1" r="6.7" fill="#ff0000"/>
<circle cx="897.5" cy="2254.1" r="6.7" fill="#ffc107"/>
<circle cx="918.6" cy="2234.1" r="6.7" fill="#00ff00"/>
<circle cx="918.6" cy="2314.0" r="6.7" fill="#ff80e6"/>
<circle cx="939.6" cy="2274.1" r="6.7" fill="#00eeff"/>
<circle cx="939.6" cy="2294.0" r="6.7" fill="#0000ff"/>
<circle cx="939.6" cy="2314.0" r="3.4" fill="#ff0000"/>
<circle cx="960.6" cy="2294.0" r="6.7" fill="#0000ff"/>
<circle cx="1044.7" cy="2314.0" r="6.7" fill="#0a7a0a"/>
<circle cx="1065.8" cy="2254.1" r="3.4" fill="#00eeff"/>
<circle cx="1065.8" cy="2294.0" r="6.7" fill="#0000ff"/>
<circle cx="1086.8" cy="2294.0" r="6.7" fill="#0000ff"/>
<circle cx="1149.9" cy="2194.2" r="6.7" fill="#ff80e6"/>
<circle cx="35.4" cy="2194.2" r="6.7" fill="#006400"/>
<circle cx="35.4" cy="2194.2" r="3.0" fill="#00ff00"/>
<circle cx="540.1" cy="2214.1" r="4.6" fill="#999999"/>
</g>
<line x1="16.9" y1="2174.2" x2="1277" y2="2174.2" stroke="#00ff00" stroke-width="1.55" stroke-dasharray="8.8 9.6" opacity="0.45"/>
<line x1="16.9" y1="2194.2" x2="1277" y2="2194.2" stroke="#1eff1e" stroke-width="1.55" stroke-dasharray="8.8 9.6" opacity="0.45"/>
<line x1="16.9" y1="2214.1" x2="1277" y2="2214.1" stroke="#46ff46" stroke-width="1.55" stroke-dasharray="8.8 9.6" opacity="0.45"/>
<line x1="16.9" y1="2234.1" x2="1277" y2="2234.1" stroke="#82ff82" stroke-width="1.55" stroke-dasharray="8.8 9.6" opacity="0.45"/>
<line x1="16.9" y1="2254.1" x2="1277" y2="2254.1" stroke="#cccccc" stroke-width="1.55" stroke-dasharray="8.8 9.6" opacity="0.45"/>
<line x1="16.9" y1="2274.1" x2="1277" y2="2274.1" stroke="#ff9292" stroke-width="1.55" stroke-dasharray="8.8 9.6" opacity="0.45"/>
<line x1="16.9" y1="2294.0" x2="1277" y2="2294.0" stroke="#ff5c5c" stroke-width="1.55" stroke-dasharray="8.8 9.6" opacity="0.45"/>
<line x1="16.9" y1="2314.0" x2="1277" y2="2314.0" stroke="#ff2e2e" stroke-width="1.55" stroke-dasharray="8.8 9.6" opacity="0.45"/>
<line x1="16.9" y1="2334.0" x2="1277" y2="2334.0" stroke="#ff0000" stroke-width="1.55" stroke-dasharray="8.8 9.6" opacity="0.45"/>
<text x="29.0" y="77.8" font-size="20.7" fill="#b2b5be" textLength="87.3" lengthAdjust="spacingAndGlyphs">Ethereum</text>
<text x="127.1" y="77.8" font-size="20.7" fill="#b2b5be" textLength="6.4" lengthAdjust="spacingAndGlyphs">/</text>
<text x="138.4" y="77.8" font-size="20.7" fill="#b2b5be" textLength="52.8" lengthAdjust="spacingAndGlyphs">Dollar</text>
<text x="198.8" y="77.8" font-size="20.7" fill="#b2b5be" textLength="4.4" lengthAdjust="spacingAndGlyphs">·</text>
<text x="212.3" y="77.8" font-size="20.7" fill="#b2b5be" textLength="19.1" lengthAdjust="spacingAndGlyphs">2T</text>
<text x="241.7" y="77.8" font-size="20.7" fill="#b2b5be" textLength="4.4" lengthAdjust="spacingAndGlyphs">·</text>
<text x="253.6" y="77.8" font-size="20.7" fill="#b2b5be" textLength="70.9" lengthAdjust="spacingAndGlyphs">Binance</text>
<text x="337.5" y="77.8" font-size="20.7" fill="#b2b5be" textLength="12.0" lengthAdjust="spacingAndGlyphs">O</text>
<text x="349.2" y="77.8" font-size="20.7" fill="#089981" textLength="79.4" lengthAdjust="spacingAndGlyphs">4.459,53</text>
<text x="440.3" y="77.8" font-size="20.7" fill="#b2b5be" textLength="12.6" lengthAdjust="spacingAndGlyphs">H</text>
<text x="453.1" y="77.8" font-size="20.7" fill="#089981" textLength="77.7" lengthAdjust="spacingAndGlyphs">4.766,02</text>
<text x="543.6" y="77.8" font-size="20.7" fill="#b2b5be" textLength="9.5" lengthAdjust="spacingAndGlyphs">L</text>
<text x="552.7" y="77.8" font-size="20.7" fill="#089981" textLength="77.7" lengthAdjust="spacingAndGlyphs">4.451,97</text>
<text x="644.2" y="77.8" font-size="20.7" fill="#b2b5be" textLength="11.5" lengthAdjust="spacingAndGlyphs">C</text>
<text x="654.9" y="77.8" font-size="20.7" fill="#089981" textLength="77.8" lengthAdjust="spacingAndGlyphs">4.694,11</text>
<text x="29.9" y="105.8" font-size="20.7" fill="#b2b5be" textLength="38.7" lengthAdjust="spacingAndGlyphs">Croc</text>
<text x="76.7" y="105.8" font-size="20.7" fill="#b2b5be" textLength="27.7" lengthAdjust="spacingAndGlyphs">3.0</text>
<text x="110.4" y="105.8" font-size="20.7" fill="#b2b5be" textLength="48.6" lengthAdjust="spacingAndGlyphs">Chart</text>
<text x="169.2" y="105.8" font-size="20.7" fill="#b2b5be" textLength="4.8" lengthAdjust="spacingAndGlyphs">-</text>
<text x="178.6" y="105.8" font-size="20.7" fill="#b2b5be" textLength="108.9" lengthAdjust="spacingAndGlyphs">Professional</text>
<text x="29.9" y="134.2" font-size="20.7" fill="#b2b5be" textLength="38.7" lengthAdjust="spacingAndGlyphs">Croc</text>
<text x="76.7" y="134.2" font-size="20.7" fill="#b2b5be" textLength="47.4" lengthAdjust="spacingAndGlyphs">Vibes</text>
<text x="129.7" y="134.2" font-size="20.7" fill="#b2b5be" textLength="20.3" lengthAdjust="spacingAndGlyphs">by</text>
<text x="156.9" y="134.2" font-size="20.7" fill="#b2b5be" textLength="54.9" lengthAdjust="spacingAndGlyphs">Telgos</text>
<text x="29.5" y="1817.8" font-size="20.7" fill="#b2b5be" textLength="39.9" lengthAdjust="spacingAndGlyphs">Croc</text>
<text x="77.3" y="1817.8" font-size="20.7" fill="#b2b5be" textLength="28.6" lengthAdjust="spacingAndGlyphs">3.0</text>
<text x="110.9" y="1817.8" font-size="20.7" fill="#b2b5be" textLength="112.1" lengthAdjust="spacingAndGlyphs">Lochstreifen</text>
<text x="230.7" y="1817.8" font-size="20.7" fill="#b2b5be" textLength="5.1" lengthAdjust="spacingAndGlyphs">-</text>
<text x="241.0" y="1817.8" font-size="20.7" fill="#b2b5be" textLength="109.1" lengthAdjust="spacingAndGlyphs">Professional</text>
<text x="454.4" y="1810.0" font-size="20.7" fill="#000000" textLength="28.9" lengthAdjust="spacingAndGlyphs">ICE</text>
<text x="492.0" y="1810.0" font-size="20.7" fill="#000000" textLength="64.1" lengthAdjust="spacingAndGlyphs">Trading</text>
<text x="561.4" y="1810.0" font-size="20.7" fill="#000000" textLength="62.0" lengthAdjust="spacingAndGlyphs">Deluxe</text>
<text x="628.6" y="1810.0" font-size="20.7" fill="#000000" textLength="27.0" lengthAdjust="spacingAndGlyphs">Big</text>
<text x="660.8" y="1810.0" font-size="20.7" fill="#000000" textLength="46.4" lengthAdjust="spacingAndGlyphs">Point</text>
<text x="262.4" y="1881.4" font-size="20.7" fill="#000000" textLength="33.9" lengthAdjust="spacingAndGlyphs">Von</text>
<text x="299.7" y="1881.4" font-size="20.7" fill="#000000" textLength="52.8" lengthAdjust="spacingAndGlyphs">oben:</text>
<text x="356.1" y="1881.4" font-size="20.7" fill="#000000" textLength="56.2" lengthAdjust="spacingAndGlyphs">Status</text>
<text x="421.3" y="1881.4" font-size="20.7" fill="#000000" textLength="7.0" lengthAdjust="spacingAndGlyphs">/</text>
<text x="434.6" y="1881.4" font-size="20.7" fill="#000000" textLength="109.2" lengthAdjust="spacingAndGlyphs">Kerzenfarbe</text>
<text x="552.6" y="1881.4" font-size="20.7" fill="#000000" textLength="7.3" lengthAdjust="spacingAndGlyphs">/</text>
<text x="567.6" y="1881.4" font-size="20.7" fill="#000000" textLength="111.4" lengthAdjust="spacingAndGlyphs">Wolkenfarbe</text>
<text x="687.7" y="1881.4" font-size="20.7" fill="#000000" textLength="7.0" lengthAdjust="spacingAndGlyphs">/</text>
<text x="702.6" y="1881.4" font-size="20.7" fill="#000000" textLength="50.8" lengthAdjust="spacingAndGlyphs">Trend</text>
<text x="761.3" y="1881.4" font-size="20.7" fill="#000000" textLength="7.3" lengthAdjust="spacingAndGlyphs">/</text>
<text x="774.5" y="1881.4" font-size="20.7" fill="#000000" textLength="56.0" lengthAdjust="spacingAndGlyphs">Setter</text>
<text x="838.8" y="1881.4" font-size="20.7" fill="#000000" textLength="7.3" lengthAdjust="spacingAndGlyphs">/</text>
<text x="853.4" y="1881.4" font-size="20.7" fill="#000000" textLength="49.9" lengthAdjust="spacingAndGlyphs">Welle</text>
<g clip-path="url(#msitxt)">
<text x="455.6" y="2074.2" font-size="20.7" fill="#000000" textLength="100.9" lengthAdjust="spacingAndGlyphs">Momentum</text>
<text x="559.8" y="2074.2" font-size="20.7" fill="#000000" textLength="56.4" lengthAdjust="spacingAndGlyphs">Status</text>
<text x="619.8" y="2074.2" font-size="20.7" fill="#000000" textLength="82.0" lengthAdjust="spacingAndGlyphs">Indikator</text>
</g>
<text x="29.5" y="2102.2" font-size="20.7" fill="#b2b5be" textLength="39.9" lengthAdjust="spacingAndGlyphs">Croc</text>
<text x="77.3" y="2102.2" font-size="20.7" fill="#b2b5be" textLength="28.6" lengthAdjust="spacingAndGlyphs">3.0</text>
<text x="110.9" y="2102.2" font-size="20.7" fill="#b2b5be" textLength="31.9" lengthAdjust="spacingAndGlyphs">MSI</text>
<text x="149.2" y="2102.2" font-size="20.7" fill="#b2b5be" textLength="5.1" lengthAdjust="spacingAndGlyphs">-</text>
<text x="158.6" y="2102.2" font-size="20.7" fill="#b2b5be" textLength="108.9" lengthAdjust="spacingAndGlyphs">Professional</text>
<text x="520.9" y="2161.2" font-size="20.7" fill="#000000" textLength="28.4" lengthAdjust="spacingAndGlyphs">ICE</text>
<text x="555.7" y="2161.2" font-size="20.7" fill="#000000" textLength="37.5" lengthAdjust="spacingAndGlyphs">DNA</text>
<text x="599.5" y="2161.2" font-size="20.7" fill="#000000" textLength="44.9" lengthAdjust="spacingAndGlyphs">Code</text>
<text x="29.5" y="2175.8" font-size="20.7" fill="#b2b5be" textLength="41.2" lengthAdjust="spacingAndGlyphs">Croc</text>
<text x="76.9" y="2175.8" font-size="20.7" fill="#b2b5be" textLength="29.5" lengthAdjust="spacingAndGlyphs">3.0</text>
<text x="111.7" y="2175.8" font-size="20.7" fill="#b2b5be" textLength="36.7" lengthAdjust="spacingAndGlyphs">DNA</text>
<text x="155.7" y="2175.8" font-size="20.7" fill="#b2b5be" textLength="4.8" lengthAdjust="spacingAndGlyphs">-</text>
<text x="165.9" y="2175.8" font-size="20.7" fill="#b2b5be" textLength="109.3" lengthAdjust="spacingAndGlyphs">Professional</text>
<text x="58.9" y="2384.2" font-size="20.7" fill="#b2b5be" textLength="36.5" lengthAdjust="spacingAndGlyphs" stroke="#b2b5be" stroke-width="0.7">Jun</text>
<text x="378.1" y="2384.2" font-size="20.7" fill="#b2b5be" textLength="29.5" lengthAdjust="spacingAndGlyphs" stroke="#b2b5be" stroke-width="0.7">Jul</text>
<text x="690.8" y="2384.2" font-size="20.7" fill="#b2b5be" textLength="35.8" lengthAdjust="spacingAndGlyphs" stroke="#b2b5be" stroke-width="0.7">Aug</text>
<text x="1026.5" y="2384.2" font-size="20.7" fill="#b2b5be" textLength="34.9" lengthAdjust="spacingAndGlyphs" stroke="#b2b5be" stroke-width="0.7">Sep</text>
<text x="1299.9" y="145.6" font-size="20.7" fill="#b2b5be" textLength="78.1" lengthAdjust="spacingAndGlyphs">5.600,00</text>
<text x="1299.9" y="214.9" font-size="20.7" fill="#b2b5be" textLength="78.1" lengthAdjust="spacingAndGlyphs">5.400,00</text>
<text x="1299.9" y="284.2" font-size="20.7" fill="#b2b5be" textLength="78.1" lengthAdjust="spacingAndGlyphs">5.200,00</text>
<text x="1299.9" y="353.5" font-size="20.7" fill="#b2b5be" textLength="78.1" lengthAdjust="spacingAndGlyphs">5.000,00</text>
<text x="1299.9" y="422.8" font-size="20.7" fill="#b2b5be" textLength="78.1" lengthAdjust="spacingAndGlyphs">4.800,00</text>
<text x="1300.8" y="492.1" font-size="20.7" fill="#b2b5be" textLength="77.2" lengthAdjust="spacingAndGlyphs">4.600,00</text>
<text x="1299.9" y="561.4" font-size="20.7" fill="#b2b5be" textLength="78.1" lengthAdjust="spacingAndGlyphs">4.400,00</text>
<text x="1299.9" y="630.7" font-size="20.7" fill="#b2b5be" textLength="78.1" lengthAdjust="spacingAndGlyphs">4.200,00</text>
<text x="1299.9" y="700.0" font-size="20.7" fill="#b2b5be" textLength="78.1" lengthAdjust="spacingAndGlyphs">4.000,00</text>
<text x="1299.9" y="769.3" font-size="20.7" fill="#b2b5be" textLength="78.1" lengthAdjust="spacingAndGlyphs">3.800,00</text>
<text x="1299.9" y="838.7" font-size="20.7" fill="#b2b5be" textLength="78.1" lengthAdjust="spacingAndGlyphs">3.600,00</text>
<text x="1299.9" y="908.0" font-size="20.7" fill="#b2b5be" textLength="78.1" lengthAdjust="spacingAndGlyphs">3.400,00</text>
<text x="1299.9" y="977.3" font-size="20.7" fill="#b2b5be" textLength="78.1" lengthAdjust="spacingAndGlyphs">3.200,00</text>
<text x="1299.9" y="1046.6" font-size="20.7" fill="#b2b5be" textLength="78.1" lengthAdjust="spacingAndGlyphs">3.000,00</text>
<text x="1299.9" y="1115.9" font-size="20.7" fill="#b2b5be" textLength="78.1" lengthAdjust="spacingAndGlyphs">2.800,00</text>
<text x="1299.9" y="1185.2" font-size="20.7" fill="#b2b5be" textLength="78.1" lengthAdjust="spacingAndGlyphs">2.600,00</text>
<text x="1299.9" y="1254.5" font-size="20.7" fill="#b2b5be" textLength="78.1" lengthAdjust="spacingAndGlyphs">2.400,00</text>
<text x="1299.9" y="1323.8" font-size="20.7" fill="#b2b5be" textLength="78.1" lengthAdjust="spacingAndGlyphs">2.200,00</text>
<text x="1299.9" y="1393.1" font-size="20.7" fill="#b2b5be" textLength="78.1" lengthAdjust="spacingAndGlyphs">2.000,00</text>
<text x="1299.0" y="1462.4" font-size="20.7" fill="#b2b5be" textLength="79.0" lengthAdjust="spacingAndGlyphs">1.800,00</text>
<text x="1299.0" y="1531.7" font-size="20.7" fill="#b2b5be" textLength="79.0" lengthAdjust="spacingAndGlyphs">1.600,00</text>
<text x="1299.0" y="1601.0" font-size="20.7" fill="#b2b5be" textLength="79.0" lengthAdjust="spacingAndGlyphs">1.400,00</text>
<text x="1299.0" y="1670.3" font-size="20.7" fill="#b2b5be" textLength="79.0" lengthAdjust="spacingAndGlyphs">1.200,00</text>
<text x="1299.0" y="1739.6" font-size="20.7" fill="#b2b5be" textLength="79.0" lengthAdjust="spacingAndGlyphs">1.000,00</text>
<text x="1299.2" y="1834.0" font-size="20.7" fill="#b2b5be" textLength="51.3" lengthAdjust="spacingAndGlyphs">14,00</text>
<text x="1299.2" y="1891.8" font-size="20.7" fill="#b2b5be" textLength="51.3" lengthAdjust="spacingAndGlyphs">12,00</text>
<text x="1299.2" y="1949.4" font-size="20.7" fill="#b2b5be" textLength="51.3" lengthAdjust="spacingAndGlyphs">10,00</text>
<text x="1300.0" y="2007.0" font-size="20.7" fill="#b2b5be" textLength="39.6" lengthAdjust="spacingAndGlyphs">8,00</text>
<text x="1299.2" y="2064.8" font-size="20.7" fill="#b2b5be" textLength="40.5" lengthAdjust="spacingAndGlyphs">6,00</text>
<text x="1300.0" y="2138.9" font-size="20.7" fill="#b2b5be" textLength="49.6" lengthAdjust="spacingAndGlyphs">−2,50</text>
<text x="1299.2" y="2159.5" font-size="20.7" fill="#b2b5be" textLength="40.5" lengthAdjust="spacingAndGlyphs">5,00</text>
<text x="1300.0" y="2258.7" font-size="20.7" fill="#b2b5be" textLength="39.6" lengthAdjust="spacingAndGlyphs">0,00</text>
<g clip-path="url(#msiax)">
<text x="1300.0" y="2083.2" font-size="20.7" fill="#b2b5be" textLength="39.6" lengthAdjust="spacingAndGlyphs">0,00</text>
</g>
<rect x="1291.5" y="51.5" width="97.5" height="43.5" rx="6" fill="#ffffff" stroke="#eceef2" stroke-width="1"/>
<text x="1305.8" y="80.1" font-size="19.4" fill="#131722" textLength="36.3" lengthAdjust="spacingAndGlyphs">USD</text>
<path d="M1202.6,440.1 H1284.8 V468 H1202.6 a3,3 0 0 1 -3,-3 V443.1 a3,3 0 0 1 3,-3 Z" fill="#000000"/>
<text x="1206.8" y="460.4" font-size="19" fill="#ffffff" textLength="71.0" lengthAdjust="spacingAndGlyphs">ETHUSD</text>
<path d="M1286.4,439.9 H1384.2 a3,3 0 0 1 3,3 V488.8 a3,3 0 0 1 -3,3 H1286.4 Z" fill="#000000"/>
<text x="1299.5" y="459.1" font-size="20" fill="#ffffff" textLength="76.8" lengthAdjust="spacingAndGlyphs">4.694,11</text>
<text x="1299.5" y="482.8" font-size="20" fill="#cfcfcf" textLength="76.8" lengthAdjust="spacingAndGlyphs">09:23:01</text>
<g fill="#151515">
<path d="M20.4,2436.5 H40.3 V2461.4 H30.1 V2446.7 H20.4 Z"/>
<circle cx="48.3" cy="2441" r="4.1"/>
<path d="M57.8,2436.5 H69.8 L60.7,2461.4 H47.6 Z"/>
</g>
<text x="82.0" y="2461.2" font-size="34.2" fill="#151515" textLength="201.8" lengthAdjust="spacingAndGlyphs" font-weight="bold">TradingView</text>
</svg></body></html>
